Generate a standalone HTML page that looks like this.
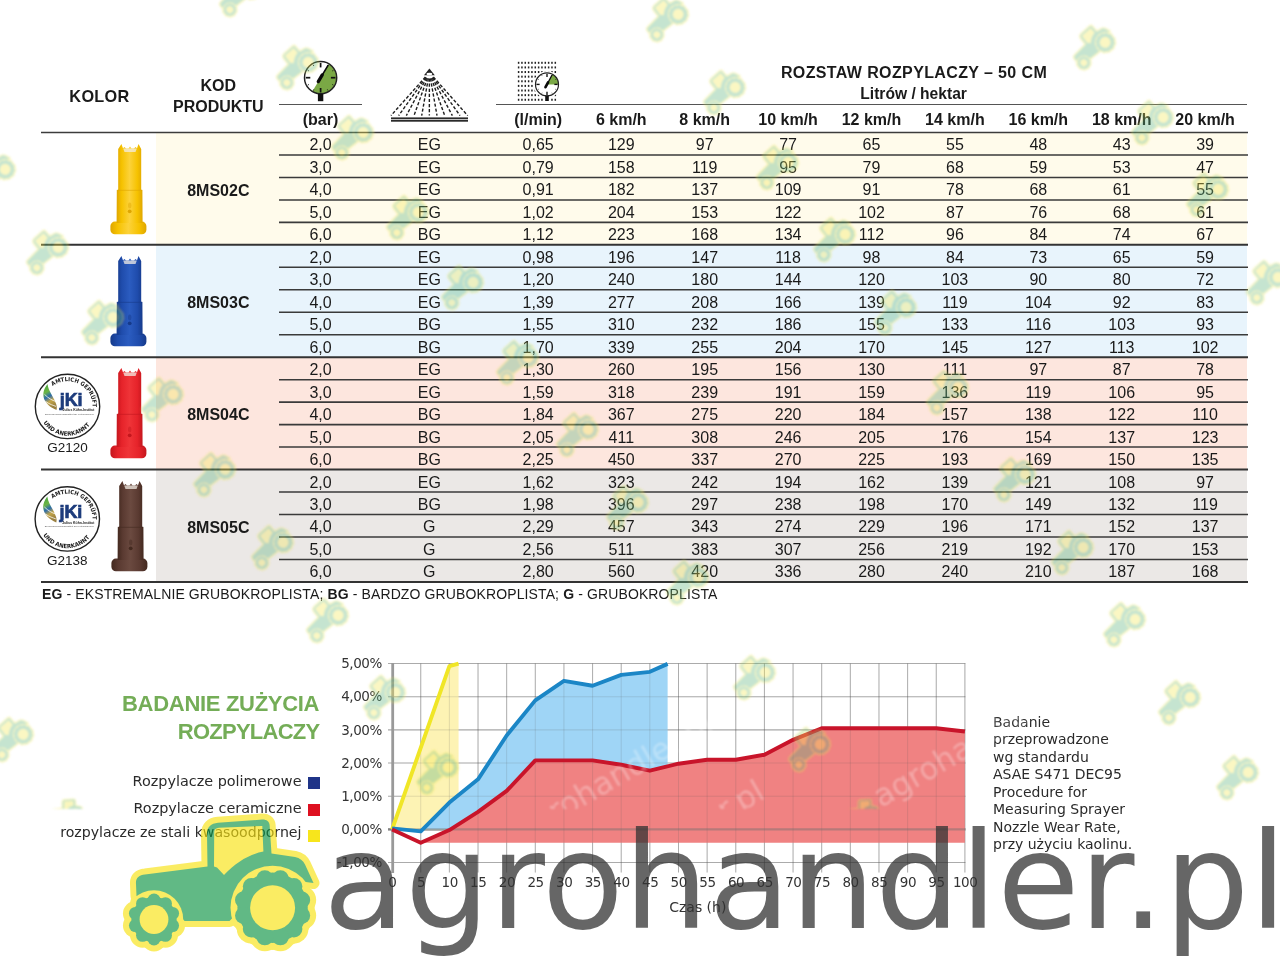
<!DOCTYPE html>
<html><head><meta charset="utf-8"><title>Rozpylacze</title>
<style>
html,body{margin:0;padding:0;background:#fff;}
#pg{position:relative;width:1280px;height:960px;overflow:hidden;background:#fff;}
.t{position:absolute;white-space:nowrap;}
.r{position:absolute;}
svg{position:absolute;overflow:visible;}
</style></head><body><div id="pg">
<div class="r" style="left:156px;top:132.5px;width:1091px;height:112.35px;background:#fffbeb;"></div>
<div class="r" style="left:156px;top:244.85px;width:1091px;height:112.35px;background:#e8f4fc;"></div>
<div class="r" style="left:156px;top:357.2px;width:1091px;height:112.35px;background:#fde6de;"></div>
<div class="r" style="left:156px;top:469.54999999999995px;width:1091px;height:112.35px;background:#ebe8e6;"></div>
<div class="r" style="left:279px;top:103.6px;width:83px;height:1.4px;background:#555;"></div>
<div class="r" style="left:496px;top:103.6px;width:751px;height:1.4px;background:#555;"></div>
<svg width="1280" height="960" style="left:0;top:0" viewBox="0 0 1280 960">
<line x1="41" y1="132.5" x2="1248" y2="132.5" stroke="#3c3c3c" stroke-width="1.7"/>
<line x1="279" y1="154.97" x2="1248" y2="154.97" stroke="#3a3a3a" stroke-width="1.55"/>
<line x1="279" y1="177.44" x2="1248" y2="177.44" stroke="#3a3a3a" stroke-width="1.55"/>
<line x1="279" y1="199.91" x2="1248" y2="199.91" stroke="#3a3a3a" stroke-width="1.55"/>
<line x1="279" y1="222.38" x2="1248" y2="222.38" stroke="#3a3a3a" stroke-width="1.55"/>
<line x1="41" y1="244.85" x2="1248" y2="244.85" stroke="#333" stroke-width="2"/>
<line x1="279" y1="267.32" x2="1248" y2="267.32" stroke="#3a3a3a" stroke-width="1.55"/>
<line x1="279" y1="289.78999999999996" x2="1248" y2="289.78999999999996" stroke="#3a3a3a" stroke-width="1.55"/>
<line x1="279" y1="312.26" x2="1248" y2="312.26" stroke="#3a3a3a" stroke-width="1.55"/>
<line x1="279" y1="334.73" x2="1248" y2="334.73" stroke="#3a3a3a" stroke-width="1.55"/>
<line x1="41" y1="357.2" x2="1248" y2="357.2" stroke="#333" stroke-width="2"/>
<line x1="279" y1="379.66999999999996" x2="1248" y2="379.66999999999996" stroke="#3a3a3a" stroke-width="1.55"/>
<line x1="279" y1="402.14" x2="1248" y2="402.14" stroke="#3a3a3a" stroke-width="1.55"/>
<line x1="279" y1="424.61" x2="1248" y2="424.61" stroke="#3a3a3a" stroke-width="1.55"/>
<line x1="279" y1="447.08" x2="1248" y2="447.08" stroke="#3a3a3a" stroke-width="1.55"/>
<line x1="41" y1="469.54999999999995" x2="1248" y2="469.54999999999995" stroke="#333" stroke-width="2"/>
<line x1="279" y1="492.02" x2="1248" y2="492.02" stroke="#3a3a3a" stroke-width="1.55"/>
<line x1="279" y1="514.49" x2="1248" y2="514.49" stroke="#3a3a3a" stroke-width="1.55"/>
<line x1="279" y1="536.96" x2="1248" y2="536.96" stroke="#3a3a3a" stroke-width="1.55"/>
<line x1="279" y1="559.43" x2="1248" y2="559.43" stroke="#3a3a3a" stroke-width="1.55"/>
<line x1="41" y1="581.9" x2="1248" y2="581.9" stroke="#333" stroke-width="2"/>
</svg>
<div class="t" style="left:-200.50px;width:600px;text-align:center;top:87.60px;font-size:16.3px;line-height:16.3px;font-weight:700;font-family:'Liberation Sans', Arial, sans-serif;color:#1a1a1a;letter-spacing:0.3px;">KOLOR</div>
<div class="t" style="left:-81.70px;width:600px;text-align:center;top:78.46px;font-size:16px;line-height:16px;font-weight:700;font-family:'Liberation Sans', Arial, sans-serif;color:#1a1a1a;">KOD</div>
<div class="t" style="left:-81.70px;width:600px;text-align:center;top:98.96px;font-size:16px;line-height:16px;font-weight:700;font-family:'Liberation Sans', Arial, sans-serif;color:#1a1a1a;">PRODUKTU</div>
<div class="t" style="left:614.00px;width:600px;text-align:center;top:64.96px;font-size:16px;line-height:16px;font-weight:700;font-family:'Liberation Sans', Arial, sans-serif;color:#1a1a1a;letter-spacing:0.38px;">ROZSTAW ROZPYLACZY – 50 CM</div>
<div class="t" style="left:613.60px;width:600px;text-align:center;top:85.79px;font-size:15.6px;line-height:15.6px;font-weight:700;font-family:'Liberation Sans', Arial, sans-serif;color:#1a1a1a;">Litrów / hektar</div>
<div class="t" style="left:20.50px;width:600px;text-align:center;top:111.76px;font-size:16px;line-height:16px;font-weight:700;font-family:'Liberation Sans', Arial, sans-serif;color:#1a1a1a;">(bar)</div>
<div class="t" style="left:238.20px;width:600px;text-align:center;top:111.76px;font-size:16px;line-height:16px;font-weight:700;font-family:'Liberation Sans', Arial, sans-serif;color:#1a1a1a;">(l/min)</div>
<div class="t" style="left:321.30px;width:600px;text-align:center;top:111.76px;font-size:16px;line-height:16px;font-weight:700;font-family:'Liberation Sans', Arial, sans-serif;color:#1a1a1a;">6 km/h</div>
<div class="t" style="left:404.70px;width:600px;text-align:center;top:111.76px;font-size:16px;line-height:16px;font-weight:700;font-family:'Liberation Sans', Arial, sans-serif;color:#1a1a1a;">8 km/h</div>
<div class="t" style="left:488.10px;width:600px;text-align:center;top:111.76px;font-size:16px;line-height:16px;font-weight:700;font-family:'Liberation Sans', Arial, sans-serif;color:#1a1a1a;">10 km/h</div>
<div class="t" style="left:571.50px;width:600px;text-align:center;top:111.76px;font-size:16px;line-height:16px;font-weight:700;font-family:'Liberation Sans', Arial, sans-serif;color:#1a1a1a;">12 km/h</div>
<div class="t" style="left:654.90px;width:600px;text-align:center;top:111.76px;font-size:16px;line-height:16px;font-weight:700;font-family:'Liberation Sans', Arial, sans-serif;color:#1a1a1a;">14 km/h</div>
<div class="t" style="left:738.30px;width:600px;text-align:center;top:111.76px;font-size:16px;line-height:16px;font-weight:700;font-family:'Liberation Sans', Arial, sans-serif;color:#1a1a1a;">16 km/h</div>
<div class="t" style="left:821.70px;width:600px;text-align:center;top:111.76px;font-size:16px;line-height:16px;font-weight:700;font-family:'Liberation Sans', Arial, sans-serif;color:#1a1a1a;">18 km/h</div>
<div class="t" style="left:905.10px;width:600px;text-align:center;top:111.76px;font-size:16px;line-height:16px;font-weight:700;font-family:'Liberation Sans', Arial, sans-serif;color:#1a1a1a;">20 km/h</div>
<div class="t" style="left:-81.70px;width:600px;text-align:center;top:182.73px;font-size:16px;line-height:16px;font-weight:700;font-family:'Liberation Sans', Arial, sans-serif;color:#1a1a1a;">8MS02C</div>
<div class="t" style="left:20.50px;width:600px;text-align:center;top:137.46px;font-size:16px;line-height:16px;font-weight:400;font-family:'Liberation Sans', Arial, sans-serif;color:#1a1a1a;">2,0</div>
<div class="t" style="left:129.30px;width:600px;text-align:center;top:137.46px;font-size:16px;line-height:16px;font-weight:400;font-family:'Liberation Sans', Arial, sans-serif;color:#1a1a1a;">EG</div>
<div class="t" style="left:238.20px;width:600px;text-align:center;top:137.46px;font-size:16px;line-height:16px;font-weight:400;font-family:'Liberation Sans', Arial, sans-serif;color:#1a1a1a;">0,65</div>
<div class="t" style="left:321.30px;width:600px;text-align:center;top:137.46px;font-size:16px;line-height:16px;font-weight:400;font-family:'Liberation Sans', Arial, sans-serif;color:#1a1a1a;">129</div>
<div class="t" style="left:404.70px;width:600px;text-align:center;top:137.46px;font-size:16px;line-height:16px;font-weight:400;font-family:'Liberation Sans', Arial, sans-serif;color:#1a1a1a;">97</div>
<div class="t" style="left:488.10px;width:600px;text-align:center;top:137.46px;font-size:16px;line-height:16px;font-weight:400;font-family:'Liberation Sans', Arial, sans-serif;color:#1a1a1a;">77</div>
<div class="t" style="left:571.50px;width:600px;text-align:center;top:137.46px;font-size:16px;line-height:16px;font-weight:400;font-family:'Liberation Sans', Arial, sans-serif;color:#1a1a1a;">65</div>
<div class="t" style="left:654.90px;width:600px;text-align:center;top:137.46px;font-size:16px;line-height:16px;font-weight:400;font-family:'Liberation Sans', Arial, sans-serif;color:#1a1a1a;">55</div>
<div class="t" style="left:738.30px;width:600px;text-align:center;top:137.46px;font-size:16px;line-height:16px;font-weight:400;font-family:'Liberation Sans', Arial, sans-serif;color:#1a1a1a;">48</div>
<div class="t" style="left:821.70px;width:600px;text-align:center;top:137.46px;font-size:16px;line-height:16px;font-weight:400;font-family:'Liberation Sans', Arial, sans-serif;color:#1a1a1a;">43</div>
<div class="t" style="left:905.10px;width:600px;text-align:center;top:137.46px;font-size:16px;line-height:16px;font-weight:400;font-family:'Liberation Sans', Arial, sans-serif;color:#1a1a1a;">39</div>
<div class="t" style="left:20.50px;width:600px;text-align:center;top:159.93px;font-size:16px;line-height:16px;font-weight:400;font-family:'Liberation Sans', Arial, sans-serif;color:#1a1a1a;">3,0</div>
<div class="t" style="left:129.30px;width:600px;text-align:center;top:159.93px;font-size:16px;line-height:16px;font-weight:400;font-family:'Liberation Sans', Arial, sans-serif;color:#1a1a1a;">EG</div>
<div class="t" style="left:238.20px;width:600px;text-align:center;top:159.93px;font-size:16px;line-height:16px;font-weight:400;font-family:'Liberation Sans', Arial, sans-serif;color:#1a1a1a;">0,79</div>
<div class="t" style="left:321.30px;width:600px;text-align:center;top:159.93px;font-size:16px;line-height:16px;font-weight:400;font-family:'Liberation Sans', Arial, sans-serif;color:#1a1a1a;">158</div>
<div class="t" style="left:404.70px;width:600px;text-align:center;top:159.93px;font-size:16px;line-height:16px;font-weight:400;font-family:'Liberation Sans', Arial, sans-serif;color:#1a1a1a;">119</div>
<div class="t" style="left:488.10px;width:600px;text-align:center;top:159.93px;font-size:16px;line-height:16px;font-weight:400;font-family:'Liberation Sans', Arial, sans-serif;color:#1a1a1a;">95</div>
<div class="t" style="left:571.50px;width:600px;text-align:center;top:159.93px;font-size:16px;line-height:16px;font-weight:400;font-family:'Liberation Sans', Arial, sans-serif;color:#1a1a1a;">79</div>
<div class="t" style="left:654.90px;width:600px;text-align:center;top:159.93px;font-size:16px;line-height:16px;font-weight:400;font-family:'Liberation Sans', Arial, sans-serif;color:#1a1a1a;">68</div>
<div class="t" style="left:738.30px;width:600px;text-align:center;top:159.93px;font-size:16px;line-height:16px;font-weight:400;font-family:'Liberation Sans', Arial, sans-serif;color:#1a1a1a;">59</div>
<div class="t" style="left:821.70px;width:600px;text-align:center;top:159.93px;font-size:16px;line-height:16px;font-weight:400;font-family:'Liberation Sans', Arial, sans-serif;color:#1a1a1a;">53</div>
<div class="t" style="left:905.10px;width:600px;text-align:center;top:159.93px;font-size:16px;line-height:16px;font-weight:400;font-family:'Liberation Sans', Arial, sans-serif;color:#1a1a1a;">47</div>
<div class="t" style="left:20.50px;width:600px;text-align:center;top:182.40px;font-size:16px;line-height:16px;font-weight:400;font-family:'Liberation Sans', Arial, sans-serif;color:#1a1a1a;">4,0</div>
<div class="t" style="left:129.30px;width:600px;text-align:center;top:182.40px;font-size:16px;line-height:16px;font-weight:400;font-family:'Liberation Sans', Arial, sans-serif;color:#1a1a1a;">EG</div>
<div class="t" style="left:238.20px;width:600px;text-align:center;top:182.40px;font-size:16px;line-height:16px;font-weight:400;font-family:'Liberation Sans', Arial, sans-serif;color:#1a1a1a;">0,91</div>
<div class="t" style="left:321.30px;width:600px;text-align:center;top:182.40px;font-size:16px;line-height:16px;font-weight:400;font-family:'Liberation Sans', Arial, sans-serif;color:#1a1a1a;">182</div>
<div class="t" style="left:404.70px;width:600px;text-align:center;top:182.40px;font-size:16px;line-height:16px;font-weight:400;font-family:'Liberation Sans', Arial, sans-serif;color:#1a1a1a;">137</div>
<div class="t" style="left:488.10px;width:600px;text-align:center;top:182.40px;font-size:16px;line-height:16px;font-weight:400;font-family:'Liberation Sans', Arial, sans-serif;color:#1a1a1a;">109</div>
<div class="t" style="left:571.50px;width:600px;text-align:center;top:182.40px;font-size:16px;line-height:16px;font-weight:400;font-family:'Liberation Sans', Arial, sans-serif;color:#1a1a1a;">91</div>
<div class="t" style="left:654.90px;width:600px;text-align:center;top:182.40px;font-size:16px;line-height:16px;font-weight:400;font-family:'Liberation Sans', Arial, sans-serif;color:#1a1a1a;">78</div>
<div class="t" style="left:738.30px;width:600px;text-align:center;top:182.40px;font-size:16px;line-height:16px;font-weight:400;font-family:'Liberation Sans', Arial, sans-serif;color:#1a1a1a;">68</div>
<div class="t" style="left:821.70px;width:600px;text-align:center;top:182.40px;font-size:16px;line-height:16px;font-weight:400;font-family:'Liberation Sans', Arial, sans-serif;color:#1a1a1a;">61</div>
<div class="t" style="left:905.10px;width:600px;text-align:center;top:182.40px;font-size:16px;line-height:16px;font-weight:400;font-family:'Liberation Sans', Arial, sans-serif;color:#1a1a1a;">55</div>
<div class="t" style="left:20.50px;width:600px;text-align:center;top:204.87px;font-size:16px;line-height:16px;font-weight:400;font-family:'Liberation Sans', Arial, sans-serif;color:#1a1a1a;">5,0</div>
<div class="t" style="left:129.30px;width:600px;text-align:center;top:204.87px;font-size:16px;line-height:16px;font-weight:400;font-family:'Liberation Sans', Arial, sans-serif;color:#1a1a1a;">EG</div>
<div class="t" style="left:238.20px;width:600px;text-align:center;top:204.87px;font-size:16px;line-height:16px;font-weight:400;font-family:'Liberation Sans', Arial, sans-serif;color:#1a1a1a;">1,02</div>
<div class="t" style="left:321.30px;width:600px;text-align:center;top:204.87px;font-size:16px;line-height:16px;font-weight:400;font-family:'Liberation Sans', Arial, sans-serif;color:#1a1a1a;">204</div>
<div class="t" style="left:404.70px;width:600px;text-align:center;top:204.87px;font-size:16px;line-height:16px;font-weight:400;font-family:'Liberation Sans', Arial, sans-serif;color:#1a1a1a;">153</div>
<div class="t" style="left:488.10px;width:600px;text-align:center;top:204.87px;font-size:16px;line-height:16px;font-weight:400;font-family:'Liberation Sans', Arial, sans-serif;color:#1a1a1a;">122</div>
<div class="t" style="left:571.50px;width:600px;text-align:center;top:204.87px;font-size:16px;line-height:16px;font-weight:400;font-family:'Liberation Sans', Arial, sans-serif;color:#1a1a1a;">102</div>
<div class="t" style="left:654.90px;width:600px;text-align:center;top:204.87px;font-size:16px;line-height:16px;font-weight:400;font-family:'Liberation Sans', Arial, sans-serif;color:#1a1a1a;">87</div>
<div class="t" style="left:738.30px;width:600px;text-align:center;top:204.87px;font-size:16px;line-height:16px;font-weight:400;font-family:'Liberation Sans', Arial, sans-serif;color:#1a1a1a;">76</div>
<div class="t" style="left:821.70px;width:600px;text-align:center;top:204.87px;font-size:16px;line-height:16px;font-weight:400;font-family:'Liberation Sans', Arial, sans-serif;color:#1a1a1a;">68</div>
<div class="t" style="left:905.10px;width:600px;text-align:center;top:204.87px;font-size:16px;line-height:16px;font-weight:400;font-family:'Liberation Sans', Arial, sans-serif;color:#1a1a1a;">61</div>
<div class="t" style="left:20.50px;width:600px;text-align:center;top:227.34px;font-size:16px;line-height:16px;font-weight:400;font-family:'Liberation Sans', Arial, sans-serif;color:#1a1a1a;">6,0</div>
<div class="t" style="left:129.30px;width:600px;text-align:center;top:227.34px;font-size:16px;line-height:16px;font-weight:400;font-family:'Liberation Sans', Arial, sans-serif;color:#1a1a1a;">BG</div>
<div class="t" style="left:238.20px;width:600px;text-align:center;top:227.34px;font-size:16px;line-height:16px;font-weight:400;font-family:'Liberation Sans', Arial, sans-serif;color:#1a1a1a;">1,12</div>
<div class="t" style="left:321.30px;width:600px;text-align:center;top:227.34px;font-size:16px;line-height:16px;font-weight:400;font-family:'Liberation Sans', Arial, sans-serif;color:#1a1a1a;">223</div>
<div class="t" style="left:404.70px;width:600px;text-align:center;top:227.34px;font-size:16px;line-height:16px;font-weight:400;font-family:'Liberation Sans', Arial, sans-serif;color:#1a1a1a;">168</div>
<div class="t" style="left:488.10px;width:600px;text-align:center;top:227.34px;font-size:16px;line-height:16px;font-weight:400;font-family:'Liberation Sans', Arial, sans-serif;color:#1a1a1a;">134</div>
<div class="t" style="left:571.50px;width:600px;text-align:center;top:227.34px;font-size:16px;line-height:16px;font-weight:400;font-family:'Liberation Sans', Arial, sans-serif;color:#1a1a1a;">112</div>
<div class="t" style="left:654.90px;width:600px;text-align:center;top:227.34px;font-size:16px;line-height:16px;font-weight:400;font-family:'Liberation Sans', Arial, sans-serif;color:#1a1a1a;">96</div>
<div class="t" style="left:738.30px;width:600px;text-align:center;top:227.34px;font-size:16px;line-height:16px;font-weight:400;font-family:'Liberation Sans', Arial, sans-serif;color:#1a1a1a;">84</div>
<div class="t" style="left:821.70px;width:600px;text-align:center;top:227.34px;font-size:16px;line-height:16px;font-weight:400;font-family:'Liberation Sans', Arial, sans-serif;color:#1a1a1a;">74</div>
<div class="t" style="left:905.10px;width:600px;text-align:center;top:227.34px;font-size:16px;line-height:16px;font-weight:400;font-family:'Liberation Sans', Arial, sans-serif;color:#1a1a1a;">67</div>
<div class="t" style="left:-81.70px;width:600px;text-align:center;top:295.08px;font-size:16px;line-height:16px;font-weight:700;font-family:'Liberation Sans', Arial, sans-serif;color:#1a1a1a;">8MS03C</div>
<div class="t" style="left:20.50px;width:600px;text-align:center;top:249.81px;font-size:16px;line-height:16px;font-weight:400;font-family:'Liberation Sans', Arial, sans-serif;color:#1a1a1a;">2,0</div>
<div class="t" style="left:129.30px;width:600px;text-align:center;top:249.81px;font-size:16px;line-height:16px;font-weight:400;font-family:'Liberation Sans', Arial, sans-serif;color:#1a1a1a;">EG</div>
<div class="t" style="left:238.20px;width:600px;text-align:center;top:249.81px;font-size:16px;line-height:16px;font-weight:400;font-family:'Liberation Sans', Arial, sans-serif;color:#1a1a1a;">0,98</div>
<div class="t" style="left:321.30px;width:600px;text-align:center;top:249.81px;font-size:16px;line-height:16px;font-weight:400;font-family:'Liberation Sans', Arial, sans-serif;color:#1a1a1a;">196</div>
<div class="t" style="left:404.70px;width:600px;text-align:center;top:249.81px;font-size:16px;line-height:16px;font-weight:400;font-family:'Liberation Sans', Arial, sans-serif;color:#1a1a1a;">147</div>
<div class="t" style="left:488.10px;width:600px;text-align:center;top:249.81px;font-size:16px;line-height:16px;font-weight:400;font-family:'Liberation Sans', Arial, sans-serif;color:#1a1a1a;">118</div>
<div class="t" style="left:571.50px;width:600px;text-align:center;top:249.81px;font-size:16px;line-height:16px;font-weight:400;font-family:'Liberation Sans', Arial, sans-serif;color:#1a1a1a;">98</div>
<div class="t" style="left:654.90px;width:600px;text-align:center;top:249.81px;font-size:16px;line-height:16px;font-weight:400;font-family:'Liberation Sans', Arial, sans-serif;color:#1a1a1a;">84</div>
<div class="t" style="left:738.30px;width:600px;text-align:center;top:249.81px;font-size:16px;line-height:16px;font-weight:400;font-family:'Liberation Sans', Arial, sans-serif;color:#1a1a1a;">73</div>
<div class="t" style="left:821.70px;width:600px;text-align:center;top:249.81px;font-size:16px;line-height:16px;font-weight:400;font-family:'Liberation Sans', Arial, sans-serif;color:#1a1a1a;">65</div>
<div class="t" style="left:905.10px;width:600px;text-align:center;top:249.81px;font-size:16px;line-height:16px;font-weight:400;font-family:'Liberation Sans', Arial, sans-serif;color:#1a1a1a;">59</div>
<div class="t" style="left:20.50px;width:600px;text-align:center;top:272.28px;font-size:16px;line-height:16px;font-weight:400;font-family:'Liberation Sans', Arial, sans-serif;color:#1a1a1a;">3,0</div>
<div class="t" style="left:129.30px;width:600px;text-align:center;top:272.28px;font-size:16px;line-height:16px;font-weight:400;font-family:'Liberation Sans', Arial, sans-serif;color:#1a1a1a;">EG</div>
<div class="t" style="left:238.20px;width:600px;text-align:center;top:272.28px;font-size:16px;line-height:16px;font-weight:400;font-family:'Liberation Sans', Arial, sans-serif;color:#1a1a1a;">1,20</div>
<div class="t" style="left:321.30px;width:600px;text-align:center;top:272.28px;font-size:16px;line-height:16px;font-weight:400;font-family:'Liberation Sans', Arial, sans-serif;color:#1a1a1a;">240</div>
<div class="t" style="left:404.70px;width:600px;text-align:center;top:272.28px;font-size:16px;line-height:16px;font-weight:400;font-family:'Liberation Sans', Arial, sans-serif;color:#1a1a1a;">180</div>
<div class="t" style="left:488.10px;width:600px;text-align:center;top:272.28px;font-size:16px;line-height:16px;font-weight:400;font-family:'Liberation Sans', Arial, sans-serif;color:#1a1a1a;">144</div>
<div class="t" style="left:571.50px;width:600px;text-align:center;top:272.28px;font-size:16px;line-height:16px;font-weight:400;font-family:'Liberation Sans', Arial, sans-serif;color:#1a1a1a;">120</div>
<div class="t" style="left:654.90px;width:600px;text-align:center;top:272.28px;font-size:16px;line-height:16px;font-weight:400;font-family:'Liberation Sans', Arial, sans-serif;color:#1a1a1a;">103</div>
<div class="t" style="left:738.30px;width:600px;text-align:center;top:272.28px;font-size:16px;line-height:16px;font-weight:400;font-family:'Liberation Sans', Arial, sans-serif;color:#1a1a1a;">90</div>
<div class="t" style="left:821.70px;width:600px;text-align:center;top:272.28px;font-size:16px;line-height:16px;font-weight:400;font-family:'Liberation Sans', Arial, sans-serif;color:#1a1a1a;">80</div>
<div class="t" style="left:905.10px;width:600px;text-align:center;top:272.28px;font-size:16px;line-height:16px;font-weight:400;font-family:'Liberation Sans', Arial, sans-serif;color:#1a1a1a;">72</div>
<div class="t" style="left:20.50px;width:600px;text-align:center;top:294.75px;font-size:16px;line-height:16px;font-weight:400;font-family:'Liberation Sans', Arial, sans-serif;color:#1a1a1a;">4,0</div>
<div class="t" style="left:129.30px;width:600px;text-align:center;top:294.75px;font-size:16px;line-height:16px;font-weight:400;font-family:'Liberation Sans', Arial, sans-serif;color:#1a1a1a;">EG</div>
<div class="t" style="left:238.20px;width:600px;text-align:center;top:294.75px;font-size:16px;line-height:16px;font-weight:400;font-family:'Liberation Sans', Arial, sans-serif;color:#1a1a1a;">1,39</div>
<div class="t" style="left:321.30px;width:600px;text-align:center;top:294.75px;font-size:16px;line-height:16px;font-weight:400;font-family:'Liberation Sans', Arial, sans-serif;color:#1a1a1a;">277</div>
<div class="t" style="left:404.70px;width:600px;text-align:center;top:294.75px;font-size:16px;line-height:16px;font-weight:400;font-family:'Liberation Sans', Arial, sans-serif;color:#1a1a1a;">208</div>
<div class="t" style="left:488.10px;width:600px;text-align:center;top:294.75px;font-size:16px;line-height:16px;font-weight:400;font-family:'Liberation Sans', Arial, sans-serif;color:#1a1a1a;">166</div>
<div class="t" style="left:571.50px;width:600px;text-align:center;top:294.75px;font-size:16px;line-height:16px;font-weight:400;font-family:'Liberation Sans', Arial, sans-serif;color:#1a1a1a;">139</div>
<div class="t" style="left:654.90px;width:600px;text-align:center;top:294.75px;font-size:16px;line-height:16px;font-weight:400;font-family:'Liberation Sans', Arial, sans-serif;color:#1a1a1a;">119</div>
<div class="t" style="left:738.30px;width:600px;text-align:center;top:294.75px;font-size:16px;line-height:16px;font-weight:400;font-family:'Liberation Sans', Arial, sans-serif;color:#1a1a1a;">104</div>
<div class="t" style="left:821.70px;width:600px;text-align:center;top:294.75px;font-size:16px;line-height:16px;font-weight:400;font-family:'Liberation Sans', Arial, sans-serif;color:#1a1a1a;">92</div>
<div class="t" style="left:905.10px;width:600px;text-align:center;top:294.75px;font-size:16px;line-height:16px;font-weight:400;font-family:'Liberation Sans', Arial, sans-serif;color:#1a1a1a;">83</div>
<div class="t" style="left:20.50px;width:600px;text-align:center;top:317.22px;font-size:16px;line-height:16px;font-weight:400;font-family:'Liberation Sans', Arial, sans-serif;color:#1a1a1a;">5,0</div>
<div class="t" style="left:129.30px;width:600px;text-align:center;top:317.22px;font-size:16px;line-height:16px;font-weight:400;font-family:'Liberation Sans', Arial, sans-serif;color:#1a1a1a;">BG</div>
<div class="t" style="left:238.20px;width:600px;text-align:center;top:317.22px;font-size:16px;line-height:16px;font-weight:400;font-family:'Liberation Sans', Arial, sans-serif;color:#1a1a1a;">1,55</div>
<div class="t" style="left:321.30px;width:600px;text-align:center;top:317.22px;font-size:16px;line-height:16px;font-weight:400;font-family:'Liberation Sans', Arial, sans-serif;color:#1a1a1a;">310</div>
<div class="t" style="left:404.70px;width:600px;text-align:center;top:317.22px;font-size:16px;line-height:16px;font-weight:400;font-family:'Liberation Sans', Arial, sans-serif;color:#1a1a1a;">232</div>
<div class="t" style="left:488.10px;width:600px;text-align:center;top:317.22px;font-size:16px;line-height:16px;font-weight:400;font-family:'Liberation Sans', Arial, sans-serif;color:#1a1a1a;">186</div>
<div class="t" style="left:571.50px;width:600px;text-align:center;top:317.22px;font-size:16px;line-height:16px;font-weight:400;font-family:'Liberation Sans', Arial, sans-serif;color:#1a1a1a;">155</div>
<div class="t" style="left:654.90px;width:600px;text-align:center;top:317.22px;font-size:16px;line-height:16px;font-weight:400;font-family:'Liberation Sans', Arial, sans-serif;color:#1a1a1a;">133</div>
<div class="t" style="left:738.30px;width:600px;text-align:center;top:317.22px;font-size:16px;line-height:16px;font-weight:400;font-family:'Liberation Sans', Arial, sans-serif;color:#1a1a1a;">116</div>
<div class="t" style="left:821.70px;width:600px;text-align:center;top:317.22px;font-size:16px;line-height:16px;font-weight:400;font-family:'Liberation Sans', Arial, sans-serif;color:#1a1a1a;">103</div>
<div class="t" style="left:905.10px;width:600px;text-align:center;top:317.22px;font-size:16px;line-height:16px;font-weight:400;font-family:'Liberation Sans', Arial, sans-serif;color:#1a1a1a;">93</div>
<div class="t" style="left:20.50px;width:600px;text-align:center;top:339.69px;font-size:16px;line-height:16px;font-weight:400;font-family:'Liberation Sans', Arial, sans-serif;color:#1a1a1a;">6,0</div>
<div class="t" style="left:129.30px;width:600px;text-align:center;top:339.69px;font-size:16px;line-height:16px;font-weight:400;font-family:'Liberation Sans', Arial, sans-serif;color:#1a1a1a;">BG</div>
<div class="t" style="left:238.20px;width:600px;text-align:center;top:339.69px;font-size:16px;line-height:16px;font-weight:400;font-family:'Liberation Sans', Arial, sans-serif;color:#1a1a1a;">1,70</div>
<div class="t" style="left:321.30px;width:600px;text-align:center;top:339.69px;font-size:16px;line-height:16px;font-weight:400;font-family:'Liberation Sans', Arial, sans-serif;color:#1a1a1a;">339</div>
<div class="t" style="left:404.70px;width:600px;text-align:center;top:339.69px;font-size:16px;line-height:16px;font-weight:400;font-family:'Liberation Sans', Arial, sans-serif;color:#1a1a1a;">255</div>
<div class="t" style="left:488.10px;width:600px;text-align:center;top:339.69px;font-size:16px;line-height:16px;font-weight:400;font-family:'Liberation Sans', Arial, sans-serif;color:#1a1a1a;">204</div>
<div class="t" style="left:571.50px;width:600px;text-align:center;top:339.69px;font-size:16px;line-height:16px;font-weight:400;font-family:'Liberation Sans', Arial, sans-serif;color:#1a1a1a;">170</div>
<div class="t" style="left:654.90px;width:600px;text-align:center;top:339.69px;font-size:16px;line-height:16px;font-weight:400;font-family:'Liberation Sans', Arial, sans-serif;color:#1a1a1a;">145</div>
<div class="t" style="left:738.30px;width:600px;text-align:center;top:339.69px;font-size:16px;line-height:16px;font-weight:400;font-family:'Liberation Sans', Arial, sans-serif;color:#1a1a1a;">127</div>
<div class="t" style="left:821.70px;width:600px;text-align:center;top:339.69px;font-size:16px;line-height:16px;font-weight:400;font-family:'Liberation Sans', Arial, sans-serif;color:#1a1a1a;">113</div>
<div class="t" style="left:905.10px;width:600px;text-align:center;top:339.69px;font-size:16px;line-height:16px;font-weight:400;font-family:'Liberation Sans', Arial, sans-serif;color:#1a1a1a;">102</div>
<div class="t" style="left:-81.70px;width:600px;text-align:center;top:407.43px;font-size:16px;line-height:16px;font-weight:700;font-family:'Liberation Sans', Arial, sans-serif;color:#1a1a1a;">8MS04C</div>
<div class="t" style="left:20.50px;width:600px;text-align:center;top:362.16px;font-size:16px;line-height:16px;font-weight:400;font-family:'Liberation Sans', Arial, sans-serif;color:#1a1a1a;">2,0</div>
<div class="t" style="left:129.30px;width:600px;text-align:center;top:362.16px;font-size:16px;line-height:16px;font-weight:400;font-family:'Liberation Sans', Arial, sans-serif;color:#1a1a1a;">EG</div>
<div class="t" style="left:238.20px;width:600px;text-align:center;top:362.16px;font-size:16px;line-height:16px;font-weight:400;font-family:'Liberation Sans', Arial, sans-serif;color:#1a1a1a;">1,30</div>
<div class="t" style="left:321.30px;width:600px;text-align:center;top:362.16px;font-size:16px;line-height:16px;font-weight:400;font-family:'Liberation Sans', Arial, sans-serif;color:#1a1a1a;">260</div>
<div class="t" style="left:404.70px;width:600px;text-align:center;top:362.16px;font-size:16px;line-height:16px;font-weight:400;font-family:'Liberation Sans', Arial, sans-serif;color:#1a1a1a;">195</div>
<div class="t" style="left:488.10px;width:600px;text-align:center;top:362.16px;font-size:16px;line-height:16px;font-weight:400;font-family:'Liberation Sans', Arial, sans-serif;color:#1a1a1a;">156</div>
<div class="t" style="left:571.50px;width:600px;text-align:center;top:362.16px;font-size:16px;line-height:16px;font-weight:400;font-family:'Liberation Sans', Arial, sans-serif;color:#1a1a1a;">130</div>
<div class="t" style="left:654.90px;width:600px;text-align:center;top:362.16px;font-size:16px;line-height:16px;font-weight:400;font-family:'Liberation Sans', Arial, sans-serif;color:#1a1a1a;">111</div>
<div class="t" style="left:738.30px;width:600px;text-align:center;top:362.16px;font-size:16px;line-height:16px;font-weight:400;font-family:'Liberation Sans', Arial, sans-serif;color:#1a1a1a;">97</div>
<div class="t" style="left:821.70px;width:600px;text-align:center;top:362.16px;font-size:16px;line-height:16px;font-weight:400;font-family:'Liberation Sans', Arial, sans-serif;color:#1a1a1a;">87</div>
<div class="t" style="left:905.10px;width:600px;text-align:center;top:362.16px;font-size:16px;line-height:16px;font-weight:400;font-family:'Liberation Sans', Arial, sans-serif;color:#1a1a1a;">78</div>
<div class="t" style="left:20.50px;width:600px;text-align:center;top:384.63px;font-size:16px;line-height:16px;font-weight:400;font-family:'Liberation Sans', Arial, sans-serif;color:#1a1a1a;">3,0</div>
<div class="t" style="left:129.30px;width:600px;text-align:center;top:384.63px;font-size:16px;line-height:16px;font-weight:400;font-family:'Liberation Sans', Arial, sans-serif;color:#1a1a1a;">EG</div>
<div class="t" style="left:238.20px;width:600px;text-align:center;top:384.63px;font-size:16px;line-height:16px;font-weight:400;font-family:'Liberation Sans', Arial, sans-serif;color:#1a1a1a;">1,59</div>
<div class="t" style="left:321.30px;width:600px;text-align:center;top:384.63px;font-size:16px;line-height:16px;font-weight:400;font-family:'Liberation Sans', Arial, sans-serif;color:#1a1a1a;">318</div>
<div class="t" style="left:404.70px;width:600px;text-align:center;top:384.63px;font-size:16px;line-height:16px;font-weight:400;font-family:'Liberation Sans', Arial, sans-serif;color:#1a1a1a;">239</div>
<div class="t" style="left:488.10px;width:600px;text-align:center;top:384.63px;font-size:16px;line-height:16px;font-weight:400;font-family:'Liberation Sans', Arial, sans-serif;color:#1a1a1a;">191</div>
<div class="t" style="left:571.50px;width:600px;text-align:center;top:384.63px;font-size:16px;line-height:16px;font-weight:400;font-family:'Liberation Sans', Arial, sans-serif;color:#1a1a1a;">159</div>
<div class="t" style="left:654.90px;width:600px;text-align:center;top:384.63px;font-size:16px;line-height:16px;font-weight:400;font-family:'Liberation Sans', Arial, sans-serif;color:#1a1a1a;">136</div>
<div class="t" style="left:738.30px;width:600px;text-align:center;top:384.63px;font-size:16px;line-height:16px;font-weight:400;font-family:'Liberation Sans', Arial, sans-serif;color:#1a1a1a;">119</div>
<div class="t" style="left:821.70px;width:600px;text-align:center;top:384.63px;font-size:16px;line-height:16px;font-weight:400;font-family:'Liberation Sans', Arial, sans-serif;color:#1a1a1a;">106</div>
<div class="t" style="left:905.10px;width:600px;text-align:center;top:384.63px;font-size:16px;line-height:16px;font-weight:400;font-family:'Liberation Sans', Arial, sans-serif;color:#1a1a1a;">95</div>
<div class="t" style="left:20.50px;width:600px;text-align:center;top:407.10px;font-size:16px;line-height:16px;font-weight:400;font-family:'Liberation Sans', Arial, sans-serif;color:#1a1a1a;">4,0</div>
<div class="t" style="left:129.30px;width:600px;text-align:center;top:407.10px;font-size:16px;line-height:16px;font-weight:400;font-family:'Liberation Sans', Arial, sans-serif;color:#1a1a1a;">BG</div>
<div class="t" style="left:238.20px;width:600px;text-align:center;top:407.10px;font-size:16px;line-height:16px;font-weight:400;font-family:'Liberation Sans', Arial, sans-serif;color:#1a1a1a;">1,84</div>
<div class="t" style="left:321.30px;width:600px;text-align:center;top:407.10px;font-size:16px;line-height:16px;font-weight:400;font-family:'Liberation Sans', Arial, sans-serif;color:#1a1a1a;">367</div>
<div class="t" style="left:404.70px;width:600px;text-align:center;top:407.10px;font-size:16px;line-height:16px;font-weight:400;font-family:'Liberation Sans', Arial, sans-serif;color:#1a1a1a;">275</div>
<div class="t" style="left:488.10px;width:600px;text-align:center;top:407.10px;font-size:16px;line-height:16px;font-weight:400;font-family:'Liberation Sans', Arial, sans-serif;color:#1a1a1a;">220</div>
<div class="t" style="left:571.50px;width:600px;text-align:center;top:407.10px;font-size:16px;line-height:16px;font-weight:400;font-family:'Liberation Sans', Arial, sans-serif;color:#1a1a1a;">184</div>
<div class="t" style="left:654.90px;width:600px;text-align:center;top:407.10px;font-size:16px;line-height:16px;font-weight:400;font-family:'Liberation Sans', Arial, sans-serif;color:#1a1a1a;">157</div>
<div class="t" style="left:738.30px;width:600px;text-align:center;top:407.10px;font-size:16px;line-height:16px;font-weight:400;font-family:'Liberation Sans', Arial, sans-serif;color:#1a1a1a;">138</div>
<div class="t" style="left:821.70px;width:600px;text-align:center;top:407.10px;font-size:16px;line-height:16px;font-weight:400;font-family:'Liberation Sans', Arial, sans-serif;color:#1a1a1a;">122</div>
<div class="t" style="left:905.10px;width:600px;text-align:center;top:407.10px;font-size:16px;line-height:16px;font-weight:400;font-family:'Liberation Sans', Arial, sans-serif;color:#1a1a1a;">110</div>
<div class="t" style="left:20.50px;width:600px;text-align:center;top:429.57px;font-size:16px;line-height:16px;font-weight:400;font-family:'Liberation Sans', Arial, sans-serif;color:#1a1a1a;">5,0</div>
<div class="t" style="left:129.30px;width:600px;text-align:center;top:429.57px;font-size:16px;line-height:16px;font-weight:400;font-family:'Liberation Sans', Arial, sans-serif;color:#1a1a1a;">BG</div>
<div class="t" style="left:238.20px;width:600px;text-align:center;top:429.57px;font-size:16px;line-height:16px;font-weight:400;font-family:'Liberation Sans', Arial, sans-serif;color:#1a1a1a;">2,05</div>
<div class="t" style="left:321.30px;width:600px;text-align:center;top:429.57px;font-size:16px;line-height:16px;font-weight:400;font-family:'Liberation Sans', Arial, sans-serif;color:#1a1a1a;">411</div>
<div class="t" style="left:404.70px;width:600px;text-align:center;top:429.57px;font-size:16px;line-height:16px;font-weight:400;font-family:'Liberation Sans', Arial, sans-serif;color:#1a1a1a;">308</div>
<div class="t" style="left:488.10px;width:600px;text-align:center;top:429.57px;font-size:16px;line-height:16px;font-weight:400;font-family:'Liberation Sans', Arial, sans-serif;color:#1a1a1a;">246</div>
<div class="t" style="left:571.50px;width:600px;text-align:center;top:429.57px;font-size:16px;line-height:16px;font-weight:400;font-family:'Liberation Sans', Arial, sans-serif;color:#1a1a1a;">205</div>
<div class="t" style="left:654.90px;width:600px;text-align:center;top:429.57px;font-size:16px;line-height:16px;font-weight:400;font-family:'Liberation Sans', Arial, sans-serif;color:#1a1a1a;">176</div>
<div class="t" style="left:738.30px;width:600px;text-align:center;top:429.57px;font-size:16px;line-height:16px;font-weight:400;font-family:'Liberation Sans', Arial, sans-serif;color:#1a1a1a;">154</div>
<div class="t" style="left:821.70px;width:600px;text-align:center;top:429.57px;font-size:16px;line-height:16px;font-weight:400;font-family:'Liberation Sans', Arial, sans-serif;color:#1a1a1a;">137</div>
<div class="t" style="left:905.10px;width:600px;text-align:center;top:429.57px;font-size:16px;line-height:16px;font-weight:400;font-family:'Liberation Sans', Arial, sans-serif;color:#1a1a1a;">123</div>
<div class="t" style="left:20.50px;width:600px;text-align:center;top:452.04px;font-size:16px;line-height:16px;font-weight:400;font-family:'Liberation Sans', Arial, sans-serif;color:#1a1a1a;">6,0</div>
<div class="t" style="left:129.30px;width:600px;text-align:center;top:452.04px;font-size:16px;line-height:16px;font-weight:400;font-family:'Liberation Sans', Arial, sans-serif;color:#1a1a1a;">BG</div>
<div class="t" style="left:238.20px;width:600px;text-align:center;top:452.04px;font-size:16px;line-height:16px;font-weight:400;font-family:'Liberation Sans', Arial, sans-serif;color:#1a1a1a;">2,25</div>
<div class="t" style="left:321.30px;width:600px;text-align:center;top:452.04px;font-size:16px;line-height:16px;font-weight:400;font-family:'Liberation Sans', Arial, sans-serif;color:#1a1a1a;">450</div>
<div class="t" style="left:404.70px;width:600px;text-align:center;top:452.04px;font-size:16px;line-height:16px;font-weight:400;font-family:'Liberation Sans', Arial, sans-serif;color:#1a1a1a;">337</div>
<div class="t" style="left:488.10px;width:600px;text-align:center;top:452.04px;font-size:16px;line-height:16px;font-weight:400;font-family:'Liberation Sans', Arial, sans-serif;color:#1a1a1a;">270</div>
<div class="t" style="left:571.50px;width:600px;text-align:center;top:452.04px;font-size:16px;line-height:16px;font-weight:400;font-family:'Liberation Sans', Arial, sans-serif;color:#1a1a1a;">225</div>
<div class="t" style="left:654.90px;width:600px;text-align:center;top:452.04px;font-size:16px;line-height:16px;font-weight:400;font-family:'Liberation Sans', Arial, sans-serif;color:#1a1a1a;">193</div>
<div class="t" style="left:738.30px;width:600px;text-align:center;top:452.04px;font-size:16px;line-height:16px;font-weight:400;font-family:'Liberation Sans', Arial, sans-serif;color:#1a1a1a;">169</div>
<div class="t" style="left:821.70px;width:600px;text-align:center;top:452.04px;font-size:16px;line-height:16px;font-weight:400;font-family:'Liberation Sans', Arial, sans-serif;color:#1a1a1a;">150</div>
<div class="t" style="left:905.10px;width:600px;text-align:center;top:452.04px;font-size:16px;line-height:16px;font-weight:400;font-family:'Liberation Sans', Arial, sans-serif;color:#1a1a1a;">135</div>
<div class="t" style="left:-81.70px;width:600px;text-align:center;top:519.78px;font-size:16px;line-height:16px;font-weight:700;font-family:'Liberation Sans', Arial, sans-serif;color:#1a1a1a;">8MS05C</div>
<div class="t" style="left:20.50px;width:600px;text-align:center;top:474.51px;font-size:16px;line-height:16px;font-weight:400;font-family:'Liberation Sans', Arial, sans-serif;color:#1a1a1a;">2,0</div>
<div class="t" style="left:129.30px;width:600px;text-align:center;top:474.51px;font-size:16px;line-height:16px;font-weight:400;font-family:'Liberation Sans', Arial, sans-serif;color:#1a1a1a;">EG</div>
<div class="t" style="left:238.20px;width:600px;text-align:center;top:474.51px;font-size:16px;line-height:16px;font-weight:400;font-family:'Liberation Sans', Arial, sans-serif;color:#1a1a1a;">1,62</div>
<div class="t" style="left:321.30px;width:600px;text-align:center;top:474.51px;font-size:16px;line-height:16px;font-weight:400;font-family:'Liberation Sans', Arial, sans-serif;color:#1a1a1a;">323</div>
<div class="t" style="left:404.70px;width:600px;text-align:center;top:474.51px;font-size:16px;line-height:16px;font-weight:400;font-family:'Liberation Sans', Arial, sans-serif;color:#1a1a1a;">242</div>
<div class="t" style="left:488.10px;width:600px;text-align:center;top:474.51px;font-size:16px;line-height:16px;font-weight:400;font-family:'Liberation Sans', Arial, sans-serif;color:#1a1a1a;">194</div>
<div class="t" style="left:571.50px;width:600px;text-align:center;top:474.51px;font-size:16px;line-height:16px;font-weight:400;font-family:'Liberation Sans', Arial, sans-serif;color:#1a1a1a;">162</div>
<div class="t" style="left:654.90px;width:600px;text-align:center;top:474.51px;font-size:16px;line-height:16px;font-weight:400;font-family:'Liberation Sans', Arial, sans-serif;color:#1a1a1a;">139</div>
<div class="t" style="left:738.30px;width:600px;text-align:center;top:474.51px;font-size:16px;line-height:16px;font-weight:400;font-family:'Liberation Sans', Arial, sans-serif;color:#1a1a1a;">121</div>
<div class="t" style="left:821.70px;width:600px;text-align:center;top:474.51px;font-size:16px;line-height:16px;font-weight:400;font-family:'Liberation Sans', Arial, sans-serif;color:#1a1a1a;">108</div>
<div class="t" style="left:905.10px;width:600px;text-align:center;top:474.51px;font-size:16px;line-height:16px;font-weight:400;font-family:'Liberation Sans', Arial, sans-serif;color:#1a1a1a;">97</div>
<div class="t" style="left:20.50px;width:600px;text-align:center;top:496.98px;font-size:16px;line-height:16px;font-weight:400;font-family:'Liberation Sans', Arial, sans-serif;color:#1a1a1a;">3,0</div>
<div class="t" style="left:129.30px;width:600px;text-align:center;top:496.98px;font-size:16px;line-height:16px;font-weight:400;font-family:'Liberation Sans', Arial, sans-serif;color:#1a1a1a;">BG</div>
<div class="t" style="left:238.20px;width:600px;text-align:center;top:496.98px;font-size:16px;line-height:16px;font-weight:400;font-family:'Liberation Sans', Arial, sans-serif;color:#1a1a1a;">1,98</div>
<div class="t" style="left:321.30px;width:600px;text-align:center;top:496.98px;font-size:16px;line-height:16px;font-weight:400;font-family:'Liberation Sans', Arial, sans-serif;color:#1a1a1a;">396</div>
<div class="t" style="left:404.70px;width:600px;text-align:center;top:496.98px;font-size:16px;line-height:16px;font-weight:400;font-family:'Liberation Sans', Arial, sans-serif;color:#1a1a1a;">297</div>
<div class="t" style="left:488.10px;width:600px;text-align:center;top:496.98px;font-size:16px;line-height:16px;font-weight:400;font-family:'Liberation Sans', Arial, sans-serif;color:#1a1a1a;">238</div>
<div class="t" style="left:571.50px;width:600px;text-align:center;top:496.98px;font-size:16px;line-height:16px;font-weight:400;font-family:'Liberation Sans', Arial, sans-serif;color:#1a1a1a;">198</div>
<div class="t" style="left:654.90px;width:600px;text-align:center;top:496.98px;font-size:16px;line-height:16px;font-weight:400;font-family:'Liberation Sans', Arial, sans-serif;color:#1a1a1a;">170</div>
<div class="t" style="left:738.30px;width:600px;text-align:center;top:496.98px;font-size:16px;line-height:16px;font-weight:400;font-family:'Liberation Sans', Arial, sans-serif;color:#1a1a1a;">149</div>
<div class="t" style="left:821.70px;width:600px;text-align:center;top:496.98px;font-size:16px;line-height:16px;font-weight:400;font-family:'Liberation Sans', Arial, sans-serif;color:#1a1a1a;">132</div>
<div class="t" style="left:905.10px;width:600px;text-align:center;top:496.98px;font-size:16px;line-height:16px;font-weight:400;font-family:'Liberation Sans', Arial, sans-serif;color:#1a1a1a;">119</div>
<div class="t" style="left:20.50px;width:600px;text-align:center;top:519.45px;font-size:16px;line-height:16px;font-weight:400;font-family:'Liberation Sans', Arial, sans-serif;color:#1a1a1a;">4,0</div>
<div class="t" style="left:129.30px;width:600px;text-align:center;top:519.45px;font-size:16px;line-height:16px;font-weight:400;font-family:'Liberation Sans', Arial, sans-serif;color:#1a1a1a;">G</div>
<div class="t" style="left:238.20px;width:600px;text-align:center;top:519.45px;font-size:16px;line-height:16px;font-weight:400;font-family:'Liberation Sans', Arial, sans-serif;color:#1a1a1a;">2,29</div>
<div class="t" style="left:321.30px;width:600px;text-align:center;top:519.45px;font-size:16px;line-height:16px;font-weight:400;font-family:'Liberation Sans', Arial, sans-serif;color:#1a1a1a;">457</div>
<div class="t" style="left:404.70px;width:600px;text-align:center;top:519.45px;font-size:16px;line-height:16px;font-weight:400;font-family:'Liberation Sans', Arial, sans-serif;color:#1a1a1a;">343</div>
<div class="t" style="left:488.10px;width:600px;text-align:center;top:519.45px;font-size:16px;line-height:16px;font-weight:400;font-family:'Liberation Sans', Arial, sans-serif;color:#1a1a1a;">274</div>
<div class="t" style="left:571.50px;width:600px;text-align:center;top:519.45px;font-size:16px;line-height:16px;font-weight:400;font-family:'Liberation Sans', Arial, sans-serif;color:#1a1a1a;">229</div>
<div class="t" style="left:654.90px;width:600px;text-align:center;top:519.45px;font-size:16px;line-height:16px;font-weight:400;font-family:'Liberation Sans', Arial, sans-serif;color:#1a1a1a;">196</div>
<div class="t" style="left:738.30px;width:600px;text-align:center;top:519.45px;font-size:16px;line-height:16px;font-weight:400;font-family:'Liberation Sans', Arial, sans-serif;color:#1a1a1a;">171</div>
<div class="t" style="left:821.70px;width:600px;text-align:center;top:519.45px;font-size:16px;line-height:16px;font-weight:400;font-family:'Liberation Sans', Arial, sans-serif;color:#1a1a1a;">152</div>
<div class="t" style="left:905.10px;width:600px;text-align:center;top:519.45px;font-size:16px;line-height:16px;font-weight:400;font-family:'Liberation Sans', Arial, sans-serif;color:#1a1a1a;">137</div>
<div class="t" style="left:20.50px;width:600px;text-align:center;top:541.92px;font-size:16px;line-height:16px;font-weight:400;font-family:'Liberation Sans', Arial, sans-serif;color:#1a1a1a;">5,0</div>
<div class="t" style="left:129.30px;width:600px;text-align:center;top:541.92px;font-size:16px;line-height:16px;font-weight:400;font-family:'Liberation Sans', Arial, sans-serif;color:#1a1a1a;">G</div>
<div class="t" style="left:238.20px;width:600px;text-align:center;top:541.92px;font-size:16px;line-height:16px;font-weight:400;font-family:'Liberation Sans', Arial, sans-serif;color:#1a1a1a;">2,56</div>
<div class="t" style="left:321.30px;width:600px;text-align:center;top:541.92px;font-size:16px;line-height:16px;font-weight:400;font-family:'Liberation Sans', Arial, sans-serif;color:#1a1a1a;">511</div>
<div class="t" style="left:404.70px;width:600px;text-align:center;top:541.92px;font-size:16px;line-height:16px;font-weight:400;font-family:'Liberation Sans', Arial, sans-serif;color:#1a1a1a;">383</div>
<div class="t" style="left:488.10px;width:600px;text-align:center;top:541.92px;font-size:16px;line-height:16px;font-weight:400;font-family:'Liberation Sans', Arial, sans-serif;color:#1a1a1a;">307</div>
<div class="t" style="left:571.50px;width:600px;text-align:center;top:541.92px;font-size:16px;line-height:16px;font-weight:400;font-family:'Liberation Sans', Arial, sans-serif;color:#1a1a1a;">256</div>
<div class="t" style="left:654.90px;width:600px;text-align:center;top:541.92px;font-size:16px;line-height:16px;font-weight:400;font-family:'Liberation Sans', Arial, sans-serif;color:#1a1a1a;">219</div>
<div class="t" style="left:738.30px;width:600px;text-align:center;top:541.92px;font-size:16px;line-height:16px;font-weight:400;font-family:'Liberation Sans', Arial, sans-serif;color:#1a1a1a;">192</div>
<div class="t" style="left:821.70px;width:600px;text-align:center;top:541.92px;font-size:16px;line-height:16px;font-weight:400;font-family:'Liberation Sans', Arial, sans-serif;color:#1a1a1a;">170</div>
<div class="t" style="left:905.10px;width:600px;text-align:center;top:541.92px;font-size:16px;line-height:16px;font-weight:400;font-family:'Liberation Sans', Arial, sans-serif;color:#1a1a1a;">153</div>
<div class="t" style="left:20.50px;width:600px;text-align:center;top:564.39px;font-size:16px;line-height:16px;font-weight:400;font-family:'Liberation Sans', Arial, sans-serif;color:#1a1a1a;">6,0</div>
<div class="t" style="left:129.30px;width:600px;text-align:center;top:564.39px;font-size:16px;line-height:16px;font-weight:400;font-family:'Liberation Sans', Arial, sans-serif;color:#1a1a1a;">G</div>
<div class="t" style="left:238.20px;width:600px;text-align:center;top:564.39px;font-size:16px;line-height:16px;font-weight:400;font-family:'Liberation Sans', Arial, sans-serif;color:#1a1a1a;">2,80</div>
<div class="t" style="left:321.30px;width:600px;text-align:center;top:564.39px;font-size:16px;line-height:16px;font-weight:400;font-family:'Liberation Sans', Arial, sans-serif;color:#1a1a1a;">560</div>
<div class="t" style="left:404.70px;width:600px;text-align:center;top:564.39px;font-size:16px;line-height:16px;font-weight:400;font-family:'Liberation Sans', Arial, sans-serif;color:#1a1a1a;">420</div>
<div class="t" style="left:488.10px;width:600px;text-align:center;top:564.39px;font-size:16px;line-height:16px;font-weight:400;font-family:'Liberation Sans', Arial, sans-serif;color:#1a1a1a;">336</div>
<div class="t" style="left:571.50px;width:600px;text-align:center;top:564.39px;font-size:16px;line-height:16px;font-weight:400;font-family:'Liberation Sans', Arial, sans-serif;color:#1a1a1a;">280</div>
<div class="t" style="left:654.90px;width:600px;text-align:center;top:564.39px;font-size:16px;line-height:16px;font-weight:400;font-family:'Liberation Sans', Arial, sans-serif;color:#1a1a1a;">240</div>
<div class="t" style="left:738.30px;width:600px;text-align:center;top:564.39px;font-size:16px;line-height:16px;font-weight:400;font-family:'Liberation Sans', Arial, sans-serif;color:#1a1a1a;">210</div>
<div class="t" style="left:821.70px;width:600px;text-align:center;top:564.39px;font-size:16px;line-height:16px;font-weight:400;font-family:'Liberation Sans', Arial, sans-serif;color:#1a1a1a;">187</div>
<div class="t" style="left:905.10px;width:600px;text-align:center;top:564.39px;font-size:16px;line-height:16px;font-weight:400;font-family:'Liberation Sans', Arial, sans-serif;color:#1a1a1a;">168</div>
<div class="t" style="left:42.00px;top:587.35px;font-size:14px;line-height:14px;font-weight:400;font-family:'Liberation Sans', Arial, sans-serif;color:#1a1a1a;letter-spacing:0.12px;"><b>EG</b> - EKSTREMALNIE GRUBOKROPLISTA; <b>BG</b> - BARDZO GRUBOKROPLISTA; <b>G</b> - GRUBOKROPLISTA</div>
<svg width="1280" height="960" style="left:0;top:0" viewBox="0 0 1280 960"><circle cx="320.6" cy="77.7" r="16.1" fill="#fff"/>
<path d="M320.6,77.7 L328.89,63.90 A16.1,16.1 0 0 1 312.31,91.50 Z" fill="#7aa845"/>
<line x1="330.90" y1="77.70" x2="335.41" y2="77.70" stroke="#111" stroke-width="1.72"/>
<line x1="332.31" y1="84.46" x2="333.43" y2="85.11" stroke="#111" stroke-width="0.90"/>
<line x1="327.36" y1="89.41" x2="328.01" y2="90.53" stroke="#111" stroke-width="0.90"/>
<line x1="320.60" y1="88.00" x2="320.60" y2="92.51" stroke="#111" stroke-width="1.72"/>
<line x1="313.84" y1="89.41" x2="313.19" y2="90.53" stroke="#111" stroke-width="0.90"/>
<line x1="308.89" y1="84.46" x2="307.77" y2="85.11" stroke="#111" stroke-width="0.90"/>
<line x1="310.30" y1="77.70" x2="305.79" y2="77.70" stroke="#111" stroke-width="1.72"/>
<line x1="308.89" y1="70.94" x2="307.77" y2="70.29" stroke="#111" stroke-width="0.90"/>
<line x1="313.84" y1="65.99" x2="313.19" y2="64.87" stroke="#111" stroke-width="0.90"/>
<line x1="320.60" y1="67.40" x2="320.60" y2="62.89" stroke="#111" stroke-width="1.72"/>
<line x1="327.36" y1="65.99" x2="328.01" y2="64.87" stroke="#111" stroke-width="0.90"/>
<line x1="332.31" y1="70.94" x2="333.43" y2="70.29" stroke="#111" stroke-width="0.90"/>
<circle cx="320.6" cy="77.7" r="16.1" fill="none" stroke="#222" stroke-width="1.5"/>
<line x1="318.28" y1="81.56" x2="327.90" y2="65.56" stroke="#0a0a0a" stroke-width="1.65" stroke-linecap="round"/>
<line x1="318.28" y1="81.56" x2="322.26" y2="74.94" stroke="#0a0a0a" stroke-width="3.30" stroke-linecap="round"/>
<rect x="317.9" y="93.8" width="5.4" height="7.4" fill="#111"/>
<line x1="425.40" y1="76.98" x2="391.00" y2="115.6" stroke="#1e1e1e" stroke-width="1.4" stroke-dasharray="3.2 1.9"/>
<line x1="425.91" y1="77.38" x2="398.67" y2="115.6" stroke="#1e1e1e" stroke-width="1.4" stroke-dasharray="3.2 1.9"/>
<line x1="426.56" y1="77.79" x2="406.34" y2="115.6" stroke="#1e1e1e" stroke-width="1.4" stroke-dasharray="3.2 1.9"/>
<line x1="427.38" y1="78.15" x2="414.01" y2="115.6" stroke="#1e1e1e" stroke-width="1.4" stroke-dasharray="3.2 1.9"/>
<line x1="428.34" y1="78.41" x2="421.68" y2="115.6" stroke="#1e1e1e" stroke-width="1.4" stroke-dasharray="3.2 1.9"/>
<line x1="429.39" y1="78.50" x2="429.35" y2="115.6" stroke="#1e1e1e" stroke-width="1.4" stroke-dasharray="3.2 1.9"/>
<line x1="430.45" y1="78.41" x2="437.02" y2="115.6" stroke="#1e1e1e" stroke-width="1.4" stroke-dasharray="3.2 1.9"/>
<line x1="431.41" y1="78.15" x2="444.69" y2="115.6" stroke="#1e1e1e" stroke-width="1.4" stroke-dasharray="3.2 1.9"/>
<line x1="432.23" y1="77.79" x2="452.36" y2="115.6" stroke="#1e1e1e" stroke-width="1.4" stroke-dasharray="3.2 1.9"/>
<line x1="432.88" y1="77.39" x2="460.03" y2="115.6" stroke="#1e1e1e" stroke-width="1.4" stroke-dasharray="3.2 1.9"/>
<line x1="433.39" y1="76.98" x2="467.70" y2="115.6" stroke="#1e1e1e" stroke-width="1.4" stroke-dasharray="3.2 1.9"/>
<path d="M429.4,68.6 L434.8,75.2 L424,75.2 Z" fill="#222"/>
<ellipse cx="429.4" cy="74" rx="3" ry="1.3" fill="#fff"/>
<rect x="391" y="117.4" width="77" height="1.8" fill="#2a2a2a"/><rect x="391" y="119.9" width="77" height="1.8" fill="#2a2a2a"/>
<rect x="517.85" y="61.80" width="1.5" height="2" fill="#222"/>
<rect x="521.19" y="61.80" width="1.5" height="2" fill="#222"/>
<rect x="524.52" y="61.80" width="1.5" height="2" fill="#222"/>
<rect x="527.86" y="61.80" width="1.5" height="2" fill="#222"/>
<rect x="531.19" y="61.80" width="1.5" height="2" fill="#222"/>
<rect x="534.53" y="61.80" width="1.5" height="2" fill="#222"/>
<rect x="537.87" y="61.80" width="1.5" height="2" fill="#222"/>
<rect x="541.20" y="61.80" width="1.5" height="2" fill="#222"/>
<rect x="544.54" y="61.80" width="1.5" height="2" fill="#222"/>
<rect x="547.87" y="61.80" width="1.5" height="2" fill="#222"/>
<rect x="551.21" y="61.80" width="1.5" height="2" fill="#222"/>
<rect x="554.55" y="61.80" width="1.5" height="2" fill="#222"/>
<rect x="517.85" y="66.42" width="1.5" height="2" fill="#222"/>
<rect x="521.19" y="66.42" width="1.5" height="2" fill="#222"/>
<rect x="524.52" y="66.42" width="1.5" height="2" fill="#222"/>
<rect x="527.86" y="66.42" width="1.5" height="2" fill="#222"/>
<rect x="531.19" y="66.42" width="1.5" height="2" fill="#222"/>
<rect x="534.53" y="66.42" width="1.5" height="2" fill="#222"/>
<rect x="537.87" y="66.42" width="1.5" height="2" fill="#222"/>
<rect x="541.20" y="66.42" width="1.5" height="2" fill="#222"/>
<rect x="544.54" y="66.42" width="1.5" height="2" fill="#222"/>
<rect x="547.87" y="66.42" width="1.5" height="2" fill="#222"/>
<rect x="551.21" y="66.42" width="1.5" height="2" fill="#222"/>
<rect x="554.55" y="66.42" width="1.5" height="2" fill="#222"/>
<rect x="517.85" y="71.04" width="1.5" height="2" fill="#222"/>
<rect x="521.19" y="71.04" width="1.5" height="2" fill="#222"/>
<rect x="524.52" y="71.04" width="1.5" height="2" fill="#222"/>
<rect x="527.86" y="71.04" width="1.5" height="2" fill="#222"/>
<rect x="531.19" y="71.04" width="1.5" height="2" fill="#222"/>
<rect x="534.53" y="71.04" width="1.5" height="2" fill="#222"/>
<rect x="537.87" y="71.04" width="1.5" height="2" fill="#222"/>
<rect x="541.20" y="71.04" width="1.5" height="2" fill="#222"/>
<rect x="544.54" y="71.04" width="1.5" height="2" fill="#222"/>
<rect x="547.87" y="71.04" width="1.5" height="2" fill="#222"/>
<rect x="551.21" y="71.04" width="1.5" height="2" fill="#222"/>
<rect x="554.55" y="71.04" width="1.5" height="2" fill="#222"/>
<rect x="517.85" y="75.66" width="1.5" height="2" fill="#222"/>
<rect x="521.19" y="75.66" width="1.5" height="2" fill="#222"/>
<rect x="524.52" y="75.66" width="1.5" height="2" fill="#222"/>
<rect x="527.86" y="75.66" width="1.5" height="2" fill="#222"/>
<rect x="531.19" y="75.66" width="1.5" height="2" fill="#222"/>
<rect x="534.53" y="75.66" width="1.5" height="2" fill="#222"/>
<rect x="537.87" y="75.66" width="1.5" height="2" fill="#222"/>
<rect x="541.20" y="75.66" width="1.5" height="2" fill="#222"/>
<rect x="544.54" y="75.66" width="1.5" height="2" fill="#222"/>
<rect x="547.87" y="75.66" width="1.5" height="2" fill="#222"/>
<rect x="551.21" y="75.66" width="1.5" height="2" fill="#222"/>
<rect x="554.55" y="75.66" width="1.5" height="2" fill="#222"/>
<rect x="517.85" y="80.28" width="1.5" height="2" fill="#222"/>
<rect x="521.19" y="80.28" width="1.5" height="2" fill="#222"/>
<rect x="524.52" y="80.28" width="1.5" height="2" fill="#222"/>
<rect x="527.86" y="80.28" width="1.5" height="2" fill="#222"/>
<rect x="531.19" y="80.28" width="1.5" height="2" fill="#222"/>
<rect x="534.53" y="80.28" width="1.5" height="2" fill="#222"/>
<rect x="537.87" y="80.28" width="1.5" height="2" fill="#222"/>
<rect x="541.20" y="80.28" width="1.5" height="2" fill="#222"/>
<rect x="544.54" y="80.28" width="1.5" height="2" fill="#222"/>
<rect x="547.87" y="80.28" width="1.5" height="2" fill="#222"/>
<rect x="551.21" y="80.28" width="1.5" height="2" fill="#222"/>
<rect x="554.55" y="80.28" width="1.5" height="2" fill="#222"/>
<rect x="517.85" y="84.90" width="1.5" height="2" fill="#222"/>
<rect x="521.19" y="84.90" width="1.5" height="2" fill="#222"/>
<rect x="524.52" y="84.90" width="1.5" height="2" fill="#222"/>
<rect x="527.86" y="84.90" width="1.5" height="2" fill="#222"/>
<rect x="531.19" y="84.90" width="1.5" height="2" fill="#222"/>
<rect x="534.53" y="84.90" width="1.5" height="2" fill="#222"/>
<rect x="537.87" y="84.90" width="1.5" height="2" fill="#222"/>
<rect x="541.20" y="84.90" width="1.5" height="2" fill="#222"/>
<rect x="544.54" y="84.90" width="1.5" height="2" fill="#222"/>
<rect x="547.87" y="84.90" width="1.5" height="2" fill="#222"/>
<rect x="551.21" y="84.90" width="1.5" height="2" fill="#222"/>
<rect x="554.55" y="84.90" width="1.5" height="2" fill="#222"/>
<rect x="517.85" y="89.52" width="1.5" height="2" fill="#222"/>
<rect x="521.19" y="89.52" width="1.5" height="2" fill="#222"/>
<rect x="524.52" y="89.52" width="1.5" height="2" fill="#222"/>
<rect x="527.86" y="89.52" width="1.5" height="2" fill="#222"/>
<rect x="531.19" y="89.52" width="1.5" height="2" fill="#222"/>
<rect x="534.53" y="89.52" width="1.5" height="2" fill="#222"/>
<rect x="537.87" y="89.52" width="1.5" height="2" fill="#222"/>
<rect x="541.20" y="89.52" width="1.5" height="2" fill="#222"/>
<rect x="544.54" y="89.52" width="1.5" height="2" fill="#222"/>
<rect x="547.87" y="89.52" width="1.5" height="2" fill="#222"/>
<rect x="551.21" y="89.52" width="1.5" height="2" fill="#222"/>
<rect x="554.55" y="89.52" width="1.5" height="2" fill="#222"/>
<rect x="517.85" y="94.14" width="1.5" height="2" fill="#222"/>
<rect x="521.19" y="94.14" width="1.5" height="2" fill="#222"/>
<rect x="524.52" y="94.14" width="1.5" height="2" fill="#222"/>
<rect x="527.86" y="94.14" width="1.5" height="2" fill="#222"/>
<rect x="531.19" y="94.14" width="1.5" height="2" fill="#222"/>
<rect x="534.53" y="94.14" width="1.5" height="2" fill="#222"/>
<rect x="537.87" y="94.14" width="1.5" height="2" fill="#222"/>
<rect x="541.20" y="94.14" width="1.5" height="2" fill="#222"/>
<rect x="544.54" y="94.14" width="1.5" height="2" fill="#222"/>
<rect x="547.87" y="94.14" width="1.5" height="2" fill="#222"/>
<rect x="551.21" y="94.14" width="1.5" height="2" fill="#222"/>
<rect x="554.55" y="94.14" width="1.5" height="2" fill="#222"/>
<rect x="517.85" y="98.76" width="1.5" height="2" fill="#222"/>
<rect x="521.19" y="98.76" width="1.5" height="2" fill="#222"/>
<rect x="524.52" y="98.76" width="1.5" height="2" fill="#222"/>
<rect x="527.86" y="98.76" width="1.5" height="2" fill="#222"/>
<rect x="531.19" y="98.76" width="1.5" height="2" fill="#222"/>
<rect x="534.53" y="98.76" width="1.5" height="2" fill="#222"/>
<rect x="537.87" y="98.76" width="1.5" height="2" fill="#222"/>
<rect x="541.20" y="98.76" width="1.5" height="2" fill="#222"/>
<rect x="544.54" y="98.76" width="1.5" height="2" fill="#222"/>
<rect x="547.87" y="98.76" width="1.5" height="2" fill="#222"/>
<rect x="551.21" y="98.76" width="1.5" height="2" fill="#222"/>
<rect x="554.55" y="98.76" width="1.5" height="2" fill="#222"/>
<circle cx="547" cy="84.4" r="13.4" fill="#fff"/><rect x="543.8" y="95" width="6.4" height="7" fill="#fff"/>
<circle cx="547" cy="84.4" r="11.5" fill="#fff"/>
<path d="M547,84.4 L552.40,74.25 A11.5,11.5 0 0 1 558.50,84.40 Z" fill="#7aa845"/>
<line x1="554.36" y1="84.40" x2="557.58" y2="84.40" stroke="#111" stroke-width="1.38"/>
<line x1="555.37" y1="89.23" x2="556.16" y2="89.69" stroke="#111" stroke-width="0.72"/>
<line x1="551.83" y1="92.77" x2="552.29" y2="93.56" stroke="#111" stroke-width="0.72"/>
<line x1="547.00" y1="91.76" x2="547.00" y2="94.98" stroke="#111" stroke-width="1.38"/>
<line x1="542.17" y1="92.77" x2="541.71" y2="93.56" stroke="#111" stroke-width="0.72"/>
<line x1="538.63" y1="89.23" x2="537.84" y2="89.69" stroke="#111" stroke-width="0.72"/>
<line x1="539.64" y1="84.40" x2="536.42" y2="84.40" stroke="#111" stroke-width="1.38"/>
<line x1="538.63" y1="79.57" x2="537.84" y2="79.11" stroke="#111" stroke-width="0.72"/>
<line x1="542.17" y1="76.03" x2="541.71" y2="75.24" stroke="#111" stroke-width="0.72"/>
<line x1="547.00" y1="77.04" x2="547.00" y2="73.82" stroke="#111" stroke-width="1.38"/>
<line x1="551.83" y1="76.03" x2="552.29" y2="75.24" stroke="#111" stroke-width="0.72"/>
<line x1="555.37" y1="79.57" x2="556.16" y2="79.11" stroke="#111" stroke-width="0.72"/>
<circle cx="547" cy="84.4" r="11.5" fill="none" stroke="#222" stroke-width="1.2"/>
<line x1="545.49" y1="87.24" x2="551.75" y2="75.46" stroke="#0a0a0a" stroke-width="1.32" stroke-linecap="round"/>
<line x1="545.49" y1="87.24" x2="548.08" y2="82.37" stroke="#0a0a0a" stroke-width="2.64" stroke-linecap="round"/>
<rect x="545.2" y="95.6" width="3.6" height="5.4" fill="#111"/></svg>
<svg width="40" height="95" style="left:110px;top:143.6px" viewBox="0 0 40 95"><defs><linearGradient id="gy" x1="0" x2="1" y1="0" y2="0"><stop offset="0" stop-color="#dfa600"/><stop offset="0.2" stop-color="#f6c200"/><stop offset="0.5" stop-color="#fcd23a"/><stop offset="0.8" stop-color="#f6c200"/><stop offset="1" stop-color="#dfa600"/></linearGradient></defs><rect x="0.4" y="77.6" width="36" height="12.6" rx="4.5" fill="url(#gy)"/><path d="M6.6,79 L6.8,46.5 L8.2,45.5 L8.2,5 L11.4,0 L13,4.2 L14.5,3 L16,4.4 L18.5,4.4 L20,2.6 L21.5,4.4 L24,4.4 L25.5,3 L27,4.2 L28.5,0 L31.2,5 L31.2,45.5 L32.4,46.5 L32.6,79 Z" fill="url(#gy)"/><path d="M13.2,4.6 L26.8,4.6 L25.5,8 L14.5,8 Z" fill="#f1ece4" opacity="0.75"/><rect x="6.8" y="45.8" width="25.6" height="1.2" fill="#dfa600" opacity="0.5"/><ellipse cx="19.7" cy="61.5" rx="1.7" ry="3" fill="#dfa600" opacity="0.45"/><circle cx="19.7" cy="67.3" r="1.9" fill="#dfa600"/></svg>
<svg width="40" height="95" style="left:110px;top:255.7px" viewBox="0 0 40 95"><defs><linearGradient id="gb" x1="0" x2="1" y1="0" y2="0"><stop offset="0" stop-color="#163a8a"/><stop offset="0.2" stop-color="#1f4cac"/><stop offset="0.5" stop-color="#2b5cc0"/><stop offset="0.8" stop-color="#1f4cac"/><stop offset="1" stop-color="#163a8a"/></linearGradient></defs><rect x="0.4" y="77.6" width="36" height="12.6" rx="4.5" fill="url(#gb)"/><path d="M6.6,79 L6.8,46.5 L8.2,45.5 L8.2,5 L11.4,0 L13,4.2 L14.5,3 L16,4.4 L18.5,4.4 L20,2.6 L21.5,4.4 L24,4.4 L25.5,3 L27,4.2 L28.5,0 L31.2,5 L31.2,45.5 L32.4,46.5 L32.6,79 Z" fill="url(#gb)"/><path d="M13.2,4.6 L26.8,4.6 L25.5,8 L14.5,8 Z" fill="#f1ece4" opacity="0.75"/><rect x="6.8" y="45.8" width="25.6" height="1.2" fill="#163a8a" opacity="0.5"/><ellipse cx="19.7" cy="61.5" rx="1.7" ry="3" fill="#163a8a" opacity="0.45"/><circle cx="19.7" cy="67.3" r="1.9" fill="#163a8a"/></svg>
<svg width="40" height="95" style="left:109.5px;top:368.0px" viewBox="0 0 40 95"><defs><linearGradient id="gr" x1="0" x2="1" y1="0" y2="0"><stop offset="0" stop-color="#c4161d"/><stop offset="0.2" stop-color="#e6232a"/><stop offset="0.5" stop-color="#ef3438"/><stop offset="0.8" stop-color="#e6232a"/><stop offset="1" stop-color="#c4161d"/></linearGradient></defs><rect x="0.4" y="77.6" width="36" height="12.6" rx="4.5" fill="url(#gr)"/><path d="M6.6,79 L6.8,46.5 L8.2,45.5 L8.2,5 L11.4,0 L13,4.2 L14.5,3 L16,4.4 L18.5,4.4 L20,2.6 L21.5,4.4 L24,4.4 L25.5,3 L27,4.2 L28.5,0 L31.2,5 L31.2,45.5 L32.4,46.5 L32.6,79 Z" fill="url(#gr)"/><path d="M13.2,4.6 L26.8,4.6 L25.5,8 L14.5,8 Z" fill="#f1ece4" opacity="0.75"/><rect x="6.8" y="45.8" width="25.6" height="1.2" fill="#c4161d" opacity="0.5"/><ellipse cx="19.7" cy="61.5" rx="1.7" ry="3" fill="#c4161d" opacity="0.45"/><circle cx="19.7" cy="67.3" r="1.9" fill="#c4161d"/></svg>
<svg width="40" height="95" style="left:110.5px;top:480.8px" viewBox="0 0 40 95"><defs><linearGradient id="gbr" x1="0" x2="1" y1="0" y2="0"><stop offset="0" stop-color="#43291f"/><stop offset="0.2" stop-color="#5a3a31"/><stop offset="0.5" stop-color="#6b4a40"/><stop offset="0.8" stop-color="#5a3a31"/><stop offset="1" stop-color="#43291f"/></linearGradient></defs><rect x="0.4" y="77.6" width="36" height="12.6" rx="4.5" fill="url(#gbr)"/><path d="M6.6,79 L6.8,46.5 L8.2,45.5 L8.2,5 L11.4,0 L13,4.2 L14.5,3 L16,4.4 L18.5,4.4 L20,2.6 L21.5,4.4 L24,4.4 L25.5,3 L27,4.2 L28.5,0 L31.2,5 L31.2,45.5 L32.4,46.5 L32.6,79 Z" fill="url(#gbr)"/><path d="M13.2,4.6 L26.8,4.6 L25.5,8 L14.5,8 Z" fill="#f1ece4" opacity="0.75"/><rect x="6.8" y="45.8" width="25.6" height="1.2" fill="#43291f" opacity="0.5"/><ellipse cx="19.7" cy="61.5" rx="1.7" ry="3" fill="#43291f" opacity="0.45"/><circle cx="19.7" cy="67.3" r="1.9" fill="#43291f"/></svg>
<svg width="1280" height="960" style="left:0;top:0" viewBox="0 0 1280 960"><defs><path id="j1t" d="M52.69,386.01 A25.2,25.2 0 0 1 92.70,406.40"/><path id="j1b" d="M43.29,422.73 A29.2,29.2 0 0 0 91.71,422.73"/><linearGradient id="j1g" x1="0" x2="0.3" y1="0" y2="1"><stop offset="0" stop-color="#3fa23a"/><stop offset="0.35" stop-color="#6cb545"/><stop offset="0.55" stop-color="#2b6cab"/><stop offset="0.75" stop-color="#c3a548"/><stop offset="1" stop-color="#9a8040"/></linearGradient></defs><circle cx="67.5" cy="406.4" r="32.2" fill="#fff" stroke="#222" stroke-width="1.4"/><text font-family="'DejaVu Sans', sans-serif" font-size="5.8" font-weight="700" fill="#1a1a1a"><textPath href="#j1t" textLength="56" lengthAdjust="spacingAndGlyphs">AMTLICH GEPRÜFT</textPath></text><text font-family="'DejaVu Sans', sans-serif" font-size="5.8" font-weight="700" fill="#1a1a1a"><textPath href="#j1b" textLength="54" lengthAdjust="spacingAndGlyphs">UND ANERKANNT</textPath></text><path d="M56.5,409.9 C45.5,405.4 38.5,395.4 47.5,383.9 C48.5,391.4 53.5,396.4 55.5,402.4 C57.0,405.4 57.0,407.9 56.5,409.9 Z" fill="url(#j1g)"/><path d="M44.5,394.4 C48.5,398.4 52.5,400.4 55.5,401.4" fill="none" stroke="#fff" stroke-width="0.9" opacity="0.85"/><path d="M45.5,401.4 C49.5,404.4 53.5,405.4 56.0,406.4" fill="none" stroke="#fff" stroke-width="0.9" opacity="0.85"/><text x="71.1" y="405.59999999999997" text-anchor="middle" font-family="'Liberation Sans', sans-serif" font-size="18" font-weight="700" fill="#1d3c7c" stroke="#1d3c7c" stroke-width="0.7" letter-spacing="-0.1">jKi</text><text x="78.5" y="411.0" text-anchor="middle" font-family="'Liberation Sans', sans-serif" font-size="3.4" font-weight="700" fill="#222" textLength="32" lengthAdjust="spacingAndGlyphs">Julius Kühn-Institut</text><text x="69.5" y="414.9" text-anchor="middle" font-family="'Liberation Sans', sans-serif" font-size="2.2" fill="#555" textLength="49" lengthAdjust="spacingAndGlyphs">Bundesforschungsinstitut für Kulturpflanzen</text></svg>
<div class="t" style="left:-232.50px;width:600px;text-align:center;top:441.37px;font-size:13.5px;line-height:13.5px;font-weight:400;font-family:'Liberation Sans', Arial, sans-serif;color:#1a1a1a;">G2120</div>
<svg width="1280" height="960" style="left:0;top:0" viewBox="0 0 1280 960"><defs><path id="j2t" d="M52.49,498.51 A25.2,25.2 0 0 1 92.50,518.90"/><path id="j2b" d="M43.09,535.23 A29.2,29.2 0 0 0 91.51,535.23"/><linearGradient id="j2g" x1="0" x2="0.3" y1="0" y2="1"><stop offset="0" stop-color="#3fa23a"/><stop offset="0.35" stop-color="#6cb545"/><stop offset="0.55" stop-color="#2b6cab"/><stop offset="0.75" stop-color="#c3a548"/><stop offset="1" stop-color="#9a8040"/></linearGradient></defs><circle cx="67.3" cy="518.9" r="32.2" fill="#fff" stroke="#222" stroke-width="1.4"/><text font-family="'DejaVu Sans', sans-serif" font-size="5.8" font-weight="700" fill="#1a1a1a"><textPath href="#j2t" textLength="56" lengthAdjust="spacingAndGlyphs">AMTLICH GEPRÜFT</textPath></text><text font-family="'DejaVu Sans', sans-serif" font-size="5.8" font-weight="700" fill="#1a1a1a"><textPath href="#j2b" textLength="54" lengthAdjust="spacingAndGlyphs">UND ANERKANNT</textPath></text><path d="M56.3,522.4 C45.3,517.9 38.3,507.9 47.3,496.4 C48.3,503.9 53.3,508.9 55.3,514.9 C56.8,517.9 56.8,520.4 56.3,522.4 Z" fill="url(#j2g)"/><path d="M44.3,506.9 C48.3,510.9 52.3,512.9 55.3,513.9" fill="none" stroke="#fff" stroke-width="0.9" opacity="0.85"/><path d="M45.3,513.9 C49.3,516.9 53.3,517.9 55.8,518.9" fill="none" stroke="#fff" stroke-width="0.9" opacity="0.85"/><text x="70.89999999999999" y="518.1" text-anchor="middle" font-family="'Liberation Sans', sans-serif" font-size="18" font-weight="700" fill="#1d3c7c" stroke="#1d3c7c" stroke-width="0.7" letter-spacing="-0.1">jKi</text><text x="78.3" y="523.5" text-anchor="middle" font-family="'Liberation Sans', sans-serif" font-size="3.4" font-weight="700" fill="#222" textLength="32" lengthAdjust="spacingAndGlyphs">Julius Kühn-Institut</text><text x="69.3" y="527.4" text-anchor="middle" font-family="'Liberation Sans', sans-serif" font-size="2.2" fill="#555" textLength="49" lengthAdjust="spacingAndGlyphs">Bundesforschungsinstitut für Kulturpflanzen</text></svg>
<div class="t" style="left:-232.70px;width:600px;text-align:center;top:553.77px;font-size:13.5px;line-height:13.5px;font-weight:400;font-family:'Liberation Sans', Arial, sans-serif;color:#1a1a1a;">G2138</div>
<svg width="1280" height="960" style="left:0;top:0" viewBox="0 0 1280 960">
<line x1="388" y1="862.57" x2="965.40" y2="862.57" stroke="rgba(85,85,85,0.4)" stroke-width="1.1"/>
<line x1="388" y1="796.23" x2="965.40" y2="796.23" stroke="rgba(85,85,85,0.4)" stroke-width="1.1"/>
<line x1="388" y1="763.06" x2="965.40" y2="763.06" stroke="rgba(85,85,85,0.4)" stroke-width="1.1"/>
<line x1="388" y1="729.89" x2="965.40" y2="729.89" stroke="rgba(85,85,85,0.4)" stroke-width="1.1"/>
<line x1="388" y1="696.72" x2="965.40" y2="696.72" stroke="rgba(85,85,85,0.4)" stroke-width="1.1"/>
<line x1="388" y1="663.55" x2="965.40" y2="663.55" stroke="rgba(85,85,85,0.4)" stroke-width="1.1"/>
<line x1="420.74" y1="663.55" x2="420.74" y2="872.5" stroke="rgba(85,85,85,0.38)" stroke-width="1"/>
<line x1="449.38" y1="663.55" x2="449.38" y2="872.5" stroke="rgba(85,85,85,0.38)" stroke-width="1"/>
<line x1="478.02" y1="663.55" x2="478.02" y2="872.5" stroke="rgba(85,85,85,0.38)" stroke-width="1"/>
<line x1="506.66" y1="663.55" x2="506.66" y2="872.5" stroke="rgba(85,85,85,0.38)" stroke-width="1"/>
<line x1="535.30" y1="663.55" x2="535.30" y2="872.5" stroke="rgba(85,85,85,0.38)" stroke-width="1"/>
<line x1="563.94" y1="663.55" x2="563.94" y2="872.5" stroke="rgba(85,85,85,0.38)" stroke-width="1"/>
<line x1="592.58" y1="663.55" x2="592.58" y2="872.5" stroke="rgba(85,85,85,0.38)" stroke-width="1"/>
<line x1="621.22" y1="663.55" x2="621.22" y2="872.5" stroke="rgba(85,85,85,0.38)" stroke-width="1"/>
<line x1="649.86" y1="663.55" x2="649.86" y2="872.5" stroke="rgba(85,85,85,0.38)" stroke-width="1"/>
<line x1="678.50" y1="663.55" x2="678.50" y2="872.5" stroke="rgba(85,85,85,0.38)" stroke-width="1"/>
<line x1="707.14" y1="663.55" x2="707.14" y2="872.5" stroke="rgba(85,85,85,0.38)" stroke-width="1"/>
<line x1="735.78" y1="663.55" x2="735.78" y2="872.5" stroke="rgba(85,85,85,0.38)" stroke-width="1"/>
<line x1="764.42" y1="663.55" x2="764.42" y2="872.5" stroke="rgba(85,85,85,0.38)" stroke-width="1"/>
<line x1="793.06" y1="663.55" x2="793.06" y2="872.5" stroke="rgba(85,85,85,0.38)" stroke-width="1"/>
<line x1="821.70" y1="663.55" x2="821.70" y2="872.5" stroke="rgba(85,85,85,0.38)" stroke-width="1"/>
<line x1="850.34" y1="663.55" x2="850.34" y2="872.5" stroke="rgba(85,85,85,0.38)" stroke-width="1"/>
<line x1="878.98" y1="663.55" x2="878.98" y2="872.5" stroke="rgba(85,85,85,0.38)" stroke-width="1"/>
<line x1="907.62" y1="663.55" x2="907.62" y2="872.5" stroke="rgba(85,85,85,0.38)" stroke-width="1"/>
<line x1="936.26" y1="663.55" x2="936.26" y2="872.5" stroke="rgba(85,85,85,0.38)" stroke-width="1"/>
<line x1="964.90" y1="663.55" x2="964.90" y2="872.5" stroke="rgba(85,85,85,0.38)" stroke-width="1"/>
<line x1="388" y1="829.40" x2="965.40" y2="829.40" stroke="rgba(120,120,120,0.8)" stroke-width="2.4"/>
<polygon points="392.10,829.40 449.38,666.20 458.54,663.55 458.54,829.40" fill="#fdf3b4"/>
<polygon points="392.10,828.40 420.74,831.39 449.38,802.53 478.02,779.31 506.66,735.53 535.30,700.37 563.94,680.80 592.58,685.77 621.22,674.83 649.86,671.84 667.62,663.88 667.62,829.40 392.10,829.40" fill="#9fd5f6"/>
<polygon points="420.74,842.67 449.38,830.06 478.02,811.82 506.66,790.92 535.30,760.41 563.94,760.41 592.58,760.41 621.22,764.72 649.86,770.69 678.50,763.72 707.14,759.74 735.78,759.74 764.42,754.77 793.06,739.84 821.70,728.23 850.34,728.23 878.98,728.23 907.62,728.23 936.26,728.23 964.90,731.55 964.90,842.67 420.74,842.67" fill="#f08282"/>
<line x1="388" y1="862.57" x2="965.40" y2="862.57" stroke="rgba(85,85,85,0.16)" stroke-width="1.1"/>
<line x1="388" y1="796.23" x2="965.40" y2="796.23" stroke="rgba(85,85,85,0.16)" stroke-width="1.1"/>
<line x1="388" y1="763.06" x2="965.40" y2="763.06" stroke="rgba(85,85,85,0.16)" stroke-width="1.1"/>
<line x1="388" y1="729.89" x2="965.40" y2="729.89" stroke="rgba(85,85,85,0.16)" stroke-width="1.1"/>
<line x1="388" y1="696.72" x2="965.40" y2="696.72" stroke="rgba(85,85,85,0.16)" stroke-width="1.1"/>
<line x1="388" y1="663.55" x2="965.40" y2="663.55" stroke="rgba(85,85,85,0.16)" stroke-width="1.1"/>
<line x1="420.74" y1="663.55" x2="420.74" y2="872.5" stroke="rgba(85,85,85,0.16)" stroke-width="1"/>
<line x1="449.38" y1="663.55" x2="449.38" y2="872.5" stroke="rgba(85,85,85,0.16)" stroke-width="1"/>
<line x1="478.02" y1="663.55" x2="478.02" y2="872.5" stroke="rgba(85,85,85,0.16)" stroke-width="1"/>
<line x1="506.66" y1="663.55" x2="506.66" y2="872.5" stroke="rgba(85,85,85,0.16)" stroke-width="1"/>
<line x1="535.30" y1="663.55" x2="535.30" y2="872.5" stroke="rgba(85,85,85,0.16)" stroke-width="1"/>
<line x1="563.94" y1="663.55" x2="563.94" y2="872.5" stroke="rgba(85,85,85,0.16)" stroke-width="1"/>
<line x1="592.58" y1="663.55" x2="592.58" y2="872.5" stroke="rgba(85,85,85,0.16)" stroke-width="1"/>
<line x1="621.22" y1="663.55" x2="621.22" y2="872.5" stroke="rgba(85,85,85,0.16)" stroke-width="1"/>
<line x1="649.86" y1="663.55" x2="649.86" y2="872.5" stroke="rgba(85,85,85,0.16)" stroke-width="1"/>
<line x1="678.50" y1="663.55" x2="678.50" y2="872.5" stroke="rgba(85,85,85,0.16)" stroke-width="1"/>
<line x1="707.14" y1="663.55" x2="707.14" y2="872.5" stroke="rgba(85,85,85,0.16)" stroke-width="1"/>
<line x1="735.78" y1="663.55" x2="735.78" y2="872.5" stroke="rgba(85,85,85,0.16)" stroke-width="1"/>
<line x1="764.42" y1="663.55" x2="764.42" y2="872.5" stroke="rgba(85,85,85,0.16)" stroke-width="1"/>
<line x1="793.06" y1="663.55" x2="793.06" y2="872.5" stroke="rgba(85,85,85,0.16)" stroke-width="1"/>
<line x1="821.70" y1="663.55" x2="821.70" y2="872.5" stroke="rgba(85,85,85,0.16)" stroke-width="1"/>
<line x1="850.34" y1="663.55" x2="850.34" y2="872.5" stroke="rgba(85,85,85,0.16)" stroke-width="1"/>
<line x1="878.98" y1="663.55" x2="878.98" y2="872.5" stroke="rgba(85,85,85,0.16)" stroke-width="1"/>
<line x1="907.62" y1="663.55" x2="907.62" y2="872.5" stroke="rgba(85,85,85,0.16)" stroke-width="1"/>
<line x1="936.26" y1="663.55" x2="936.26" y2="872.5" stroke="rgba(85,85,85,0.16)" stroke-width="1"/>
<line x1="964.90" y1="663.55" x2="964.90" y2="872.5" stroke="rgba(85,85,85,0.16)" stroke-width="1"/>
<line x1="388" y1="829.40" x2="965.40" y2="829.40" stroke="rgba(110,110,110,0.45)" stroke-width="2.4"/>
<line x1="392.7" y1="663.05" x2="392.7" y2="873" stroke="#999" stroke-width="2.8"/>
<polyline points="392.10,829.40 449.38,666.20 458.54,663.55" fill="none" stroke="#f0e626" stroke-width="3.9" stroke-linejoin="round"/>
<polyline points="392.10,828.40 420.74,831.39 449.38,802.53 478.02,779.31 506.66,735.53 535.30,700.37 563.94,680.80 592.58,685.77 621.22,674.83 649.86,671.84 667.62,663.88" fill="none" stroke="#1b86c6" stroke-width="3.9" stroke-linejoin="round"/>
<polyline points="392.10,829.40 420.74,842.67 449.38,830.06 478.02,811.82 506.66,790.92 535.30,760.41 563.94,760.41 592.58,760.41 621.22,764.72 649.86,770.69 678.50,763.72 707.14,759.74 735.78,759.74 764.42,754.77 793.06,739.84 821.70,728.23 850.34,728.23 878.98,728.23 907.62,728.23 936.26,728.23 964.90,731.55" fill="none" stroke="#c8142a" stroke-width="3.9" stroke-linejoin="round"/>
</svg>
<div class="t" style="left:323.2px;top:815.7px;font-family:'DejaVu Sans', sans-serif;font-size:133.7px;line-height:133.7px;color:rgba(48,48,48,0.74);">agrohandler.pl</div>
<div class="t" style="left:-218.20px;width:600px;text-align:right;top:856.34px;font-size:13.5px;line-height:13.5px;font-weight:400;font-family:'DejaVu Sans', 'Liberation Sans', sans-serif;color:#333;letter-spacing:-0.45px;">-1,00%</div>
<div class="t" style="left:-218.20px;width:600px;text-align:right;top:823.17px;font-size:13.5px;line-height:13.5px;font-weight:400;font-family:'DejaVu Sans', 'Liberation Sans', sans-serif;color:#333;letter-spacing:-0.45px;">0,00%</div>
<div class="t" style="left:-218.20px;width:600px;text-align:right;top:790.00px;font-size:13.5px;line-height:13.5px;font-weight:400;font-family:'DejaVu Sans', 'Liberation Sans', sans-serif;color:#333;letter-spacing:-0.45px;">1,00%</div>
<div class="t" style="left:-218.20px;width:600px;text-align:right;top:756.83px;font-size:13.5px;line-height:13.5px;font-weight:400;font-family:'DejaVu Sans', 'Liberation Sans', sans-serif;color:#333;letter-spacing:-0.45px;">2,00%</div>
<div class="t" style="left:-218.20px;width:600px;text-align:right;top:723.66px;font-size:13.5px;line-height:13.5px;font-weight:400;font-family:'DejaVu Sans', 'Liberation Sans', sans-serif;color:#333;letter-spacing:-0.45px;">3,00%</div>
<div class="t" style="left:-218.20px;width:600px;text-align:right;top:690.49px;font-size:13.5px;line-height:13.5px;font-weight:400;font-family:'DejaVu Sans', 'Liberation Sans', sans-serif;color:#333;letter-spacing:-0.45px;">4,00%</div>
<div class="t" style="left:-218.20px;width:600px;text-align:right;top:657.32px;font-size:13.5px;line-height:13.5px;font-weight:400;font-family:'DejaVu Sans', 'Liberation Sans', sans-serif;color:#333;letter-spacing:-0.45px;">5,00%</div>
<div class="t" style="left:92.40px;width:600px;text-align:center;top:876.27px;font-size:13.5px;line-height:13.5px;font-weight:400;font-family:'DejaVu Sans', 'Liberation Sans', sans-serif;color:#333;letter-spacing:-0.4px;">0</div>
<div class="t" style="left:121.04px;width:600px;text-align:center;top:876.27px;font-size:13.5px;line-height:13.5px;font-weight:400;font-family:'DejaVu Sans', 'Liberation Sans', sans-serif;color:#333;letter-spacing:-0.4px;">5</div>
<div class="t" style="left:149.68px;width:600px;text-align:center;top:876.27px;font-size:13.5px;line-height:13.5px;font-weight:400;font-family:'DejaVu Sans', 'Liberation Sans', sans-serif;color:#333;letter-spacing:-0.4px;">10</div>
<div class="t" style="left:178.32px;width:600px;text-align:center;top:876.27px;font-size:13.5px;line-height:13.5px;font-weight:400;font-family:'DejaVu Sans', 'Liberation Sans', sans-serif;color:#333;letter-spacing:-0.4px;">15</div>
<div class="t" style="left:206.96px;width:600px;text-align:center;top:876.27px;font-size:13.5px;line-height:13.5px;font-weight:400;font-family:'DejaVu Sans', 'Liberation Sans', sans-serif;color:#333;letter-spacing:-0.4px;">20</div>
<div class="t" style="left:235.60px;width:600px;text-align:center;top:876.27px;font-size:13.5px;line-height:13.5px;font-weight:400;font-family:'DejaVu Sans', 'Liberation Sans', sans-serif;color:#333;letter-spacing:-0.4px;">25</div>
<div class="t" style="left:264.24px;width:600px;text-align:center;top:876.27px;font-size:13.5px;line-height:13.5px;font-weight:400;font-family:'DejaVu Sans', 'Liberation Sans', sans-serif;color:#333;letter-spacing:-0.4px;">30</div>
<div class="t" style="left:292.88px;width:600px;text-align:center;top:876.27px;font-size:13.5px;line-height:13.5px;font-weight:400;font-family:'DejaVu Sans', 'Liberation Sans', sans-serif;color:#333;letter-spacing:-0.4px;">35</div>
<div class="t" style="left:321.52px;width:600px;text-align:center;top:876.27px;font-size:13.5px;line-height:13.5px;font-weight:400;font-family:'DejaVu Sans', 'Liberation Sans', sans-serif;color:#333;letter-spacing:-0.4px;">40</div>
<div class="t" style="left:350.16px;width:600px;text-align:center;top:876.27px;font-size:13.5px;line-height:13.5px;font-weight:400;font-family:'DejaVu Sans', 'Liberation Sans', sans-serif;color:#333;letter-spacing:-0.4px;">45</div>
<div class="t" style="left:378.80px;width:600px;text-align:center;top:876.27px;font-size:13.5px;line-height:13.5px;font-weight:400;font-family:'DejaVu Sans', 'Liberation Sans', sans-serif;color:#333;letter-spacing:-0.4px;">50</div>
<div class="t" style="left:407.44px;width:600px;text-align:center;top:876.27px;font-size:13.5px;line-height:13.5px;font-weight:400;font-family:'DejaVu Sans', 'Liberation Sans', sans-serif;color:#333;letter-spacing:-0.4px;">55</div>
<div class="t" style="left:436.08px;width:600px;text-align:center;top:876.27px;font-size:13.5px;line-height:13.5px;font-weight:400;font-family:'DejaVu Sans', 'Liberation Sans', sans-serif;color:#333;letter-spacing:-0.4px;">60</div>
<div class="t" style="left:464.72px;width:600px;text-align:center;top:876.27px;font-size:13.5px;line-height:13.5px;font-weight:400;font-family:'DejaVu Sans', 'Liberation Sans', sans-serif;color:#333;letter-spacing:-0.4px;">65</div>
<div class="t" style="left:493.36px;width:600px;text-align:center;top:876.27px;font-size:13.5px;line-height:13.5px;font-weight:400;font-family:'DejaVu Sans', 'Liberation Sans', sans-serif;color:#333;letter-spacing:-0.4px;">70</div>
<div class="t" style="left:522.00px;width:600px;text-align:center;top:876.27px;font-size:13.5px;line-height:13.5px;font-weight:400;font-family:'DejaVu Sans', 'Liberation Sans', sans-serif;color:#333;letter-spacing:-0.4px;">75</div>
<div class="t" style="left:550.64px;width:600px;text-align:center;top:876.27px;font-size:13.5px;line-height:13.5px;font-weight:400;font-family:'DejaVu Sans', 'Liberation Sans', sans-serif;color:#333;letter-spacing:-0.4px;">80</div>
<div class="t" style="left:579.28px;width:600px;text-align:center;top:876.27px;font-size:13.5px;line-height:13.5px;font-weight:400;font-family:'DejaVu Sans', 'Liberation Sans', sans-serif;color:#333;letter-spacing:-0.4px;">85</div>
<div class="t" style="left:607.92px;width:600px;text-align:center;top:876.27px;font-size:13.5px;line-height:13.5px;font-weight:400;font-family:'DejaVu Sans', 'Liberation Sans', sans-serif;color:#333;letter-spacing:-0.4px;">90</div>
<div class="t" style="left:636.56px;width:600px;text-align:center;top:876.27px;font-size:13.5px;line-height:13.5px;font-weight:400;font-family:'DejaVu Sans', 'Liberation Sans', sans-serif;color:#333;letter-spacing:-0.4px;">95</div>
<div class="t" style="left:665.20px;width:600px;text-align:center;top:876.27px;font-size:13.5px;line-height:13.5px;font-weight:400;font-family:'DejaVu Sans', 'Liberation Sans', sans-serif;color:#333;letter-spacing:-0.4px;">100</div>
<div class="t" style="left:397.80px;width:600px;text-align:center;top:899.65px;font-size:14px;line-height:14px;font-weight:400;font-family:'DejaVu Sans', 'Liberation Sans', sans-serif;color:#333;">Czas (h)</div>
<div class="t" style="left:993.00px;top:714.85px;font-size:14px;line-height:14px;font-weight:400;font-family:'DejaVu Sans', 'Liberation Sans', sans-serif;color:#2a2a2a;">Badanie</div>
<div class="t" style="left:993.00px;top:732.33px;font-size:14px;line-height:14px;font-weight:400;font-family:'DejaVu Sans', 'Liberation Sans', sans-serif;color:#2a2a2a;">przeprowadzone</div>
<div class="t" style="left:993.00px;top:749.81px;font-size:14px;line-height:14px;font-weight:400;font-family:'DejaVu Sans', 'Liberation Sans', sans-serif;color:#2a2a2a;">wg standardu</div>
<div class="t" style="left:993.00px;top:767.29px;font-size:14px;line-height:14px;font-weight:400;font-family:'DejaVu Sans', 'Liberation Sans', sans-serif;color:#2a2a2a;">ASAE S471 DEC95</div>
<div class="t" style="left:993.00px;top:784.77px;font-size:14px;line-height:14px;font-weight:400;font-family:'DejaVu Sans', 'Liberation Sans', sans-serif;color:#2a2a2a;">Procedure for</div>
<div class="t" style="left:993.00px;top:802.25px;font-size:14px;line-height:14px;font-weight:400;font-family:'DejaVu Sans', 'Liberation Sans', sans-serif;color:#2a2a2a;">Measuring Sprayer</div>
<div class="t" style="left:993.00px;top:819.73px;font-size:14px;line-height:14px;font-weight:400;font-family:'DejaVu Sans', 'Liberation Sans', sans-serif;color:#2a2a2a;">Nozzle Wear Rate,</div>
<div class="t" style="left:993.00px;top:837.21px;font-size:14px;line-height:14px;font-weight:400;font-family:'DejaVu Sans', 'Liberation Sans', sans-serif;color:#2a2a2a;">przy użyciu kaolinu.</div>
<div class="t" style="left:-280.80px;width:600px;text-align:right;top:692.98px;font-size:22px;line-height:22px;font-weight:700;font-family:'Liberation Sans', Arial, sans-serif;color:#74ad57;letter-spacing:-0.3px;">BADANIE ZUŻYCIA</div>
<div class="t" style="left:-280.60px;width:600px;text-align:right;top:720.78px;font-size:22px;line-height:22px;font-weight:700;font-family:'Liberation Sans', Arial, sans-serif;color:#74ad57;letter-spacing:-0.75px;">ROZPYLACZY</div>
<div class="t" style="left:-298.50px;width:600px;text-align:right;top:774.21px;font-size:14.4px;line-height:14.4px;font-weight:400;font-family:'DejaVu Sans', 'Liberation Sans', sans-serif;color:#2a2a2a;">Rozpylacze polimerowe</div>
<div class="r" style="left:307.6px;top:777.2px;width:12px;height:12px;background:#1f3488;"></div>
<div class="t" style="left:-298.50px;width:600px;text-align:right;top:800.61px;font-size:14.4px;line-height:14.4px;font-weight:400;font-family:'DejaVu Sans', 'Liberation Sans', sans-serif;color:#2a2a2a;">Rozpylacze ceramiczne</div>
<div class="r" style="left:307.6px;top:803.6px;width:12px;height:12px;background:#de1020;"></div>
<div class="t" style="left:-298.50px;width:600px;text-align:right;top:824.82px;font-size:14.15px;line-height:14.15px;font-weight:400;font-family:'DejaVu Sans', 'Liberation Sans', sans-serif;color:#2a2a2a;">rozpylacze ze stali kwasoodpornej</div>
<div class="r" style="left:307.6px;top:830.2px;width:12px;height:12px;background:#f7e51c;"></div>
<svg width="1280" height="960" style="left:0;top:0;opacity:0.65" viewBox="0 0 1280 960">
<path d="M136.5,896 L136,884 C135.5,878 139,875 145,874.5 L207.5,866.5 L207,834 C207,827 211,823.5 218,822.8 L262,819.6 C266.5,819.4 269.3,821.5 269.6,825 L271.5,853.5 L295,857 C300,858 303,860.5 305,864.5 L313.5,883 L290,880 L250,900 L229.5,921 L184.6,921 L170,905 Z" fill="#f8e211" stroke="#f8e211" stroke-width="12" stroke-linejoin="round"/>
<circle cx="154" cy="919.5" r="28.6" fill="#f8e211"/><circle cx="172.55" cy="925.53" r="12.5" fill="#f8e211"/><circle cx="165.46" cy="935.28" r="12.5" fill="#f8e211"/><circle cx="154.00" cy="939.00" r="12.5" fill="#f8e211"/><circle cx="142.54" cy="935.28" r="12.5" fill="#f8e211"/><circle cx="135.45" cy="925.53" r="12.5" fill="#f8e211"/><circle cx="135.45" cy="913.47" r="12.5" fill="#f8e211"/><circle cx="142.54" cy="903.72" r="12.5" fill="#f8e211"/><circle cx="154.00" cy="900.00" r="12.5" fill="#f8e211"/><circle cx="165.46" cy="903.72" r="12.5" fill="#f8e211"/><circle cx="172.55" cy="913.47" r="12.5" fill="#f8e211"/>
<circle cx="272.6" cy="907.8" r="41.2" fill="#f8e211"/><circle cx="301.67" cy="915.59" r="14.5" fill="#f8e211"/><circle cx="293.88" cy="929.08" r="14.5" fill="#f8e211"/><circle cx="280.39" cy="936.87" r="14.5" fill="#f8e211"/><circle cx="264.81" cy="936.87" r="14.5" fill="#f8e211"/><circle cx="251.32" cy="929.08" r="14.5" fill="#f8e211"/><circle cx="243.53" cy="915.59" r="14.5" fill="#f8e211"/><circle cx="243.53" cy="900.01" r="14.5" fill="#f8e211"/><circle cx="251.32" cy="886.52" r="14.5" fill="#f8e211"/><circle cx="264.81" cy="878.73" r="14.5" fill="#f8e211"/><circle cx="280.39" cy="878.73" r="14.5" fill="#f8e211"/><circle cx="293.88" cy="886.52" r="14.5" fill="#f8e211"/><circle cx="301.67" cy="900.01" r="14.5" fill="#f8e211"/>
<path d="M136.5,896 L136,884 C135.5,878 139,875 145,874.5 L207.5,866.5 L207,834 C207,827 211,823.5 218,822.8 L262,819.6 C266.5,819.4 269.3,821.5 269.6,825 L271.5,853.5 L295,857 C300,858 303,860.5 305,864.5 L313.5,883 L290,880 L250,900 L229.5,921 L184.6,921 L170,905 Z" fill="#0e9445"/>
<path d="M214.2,832 C214.2,829.5 216,828 219,827.8 L262.3,826 L263.4,851.6 C250,854 236,862 224,875 L217,867.5 L214,866.5 Z" fill="#f8e211"/>
<circle cx="154" cy="919.5" r="29.2" fill="#f8e211"/>
<circle cx="272.6" cy="907.8" r="42.1" fill="#f8e211"/>
<circle cx="154" cy="919.5" r="22.6" fill="#0e9445"/><circle cx="172.55" cy="925.53" r="6.5" fill="#0e9445"/><circle cx="165.46" cy="935.28" r="6.5" fill="#0e9445"/><circle cx="154.00" cy="939.00" r="6.5" fill="#0e9445"/><circle cx="142.54" cy="935.28" r="6.5" fill="#0e9445"/><circle cx="135.45" cy="925.53" r="6.5" fill="#0e9445"/><circle cx="135.45" cy="913.47" r="6.5" fill="#0e9445"/><circle cx="142.54" cy="903.72" r="6.5" fill="#0e9445"/><circle cx="154.00" cy="900.00" r="6.5" fill="#0e9445"/><circle cx="165.46" cy="903.72" r="6.5" fill="#0e9445"/><circle cx="172.55" cy="913.47" r="6.5" fill="#0e9445"/>
<circle cx="272.6" cy="907.8" r="35.2" fill="#0e9445"/><circle cx="301.67" cy="915.59" r="8.5" fill="#0e9445"/><circle cx="293.88" cy="929.08" r="8.5" fill="#0e9445"/><circle cx="280.39" cy="936.87" r="8.5" fill="#0e9445"/><circle cx="264.81" cy="936.87" r="8.5" fill="#0e9445"/><circle cx="251.32" cy="929.08" r="8.5" fill="#0e9445"/><circle cx="243.53" cy="915.59" r="8.5" fill="#0e9445"/><circle cx="243.53" cy="900.01" r="8.5" fill="#0e9445"/><circle cx="251.32" cy="886.52" r="8.5" fill="#0e9445"/><circle cx="264.81" cy="878.73" r="8.5" fill="#0e9445"/><circle cx="280.39" cy="878.73" r="8.5" fill="#0e9445"/><circle cx="293.88" cy="886.52" r="8.5" fill="#0e9445"/><circle cx="301.67" cy="900.01" r="8.5" fill="#0e9445"/>
<circle cx="154" cy="919.5" r="14.4" fill="#f8e211"/>
<circle cx="272.6" cy="907.8" r="22.5" fill="#f8e211"/>
</svg>
<svg width="1280" height="960" style="left:0;top:0;filter:blur(0.9px)" viewBox="0 0 1280 960">
<defs><symbol id="trc" viewBox="121 807 206 153"><path d="M136.5,896 L136,884 C135.5,878 139,875 145,874.5 L207.5,866.5 L207,834 C207,827 211,823.5 218,822.8 L262,819.6 C266.5,819.4 269.3,821.5 269.6,825 L271.5,853.5 L295,857 C300,858 303,860.5 305,864.5 L313.5,883 L290,880 L250,900 L229.5,921 L184.6,921 L170,905 Z" fill="#f3e85a" stroke="#f3e85a" stroke-width="12" stroke-linejoin="round"/>
<circle cx="154" cy="919.5" r="28.6" fill="#f3e85a"/><circle cx="172.55" cy="925.53" r="12.5" fill="#f3e85a"/><circle cx="165.46" cy="935.28" r="12.5" fill="#f3e85a"/><circle cx="154.00" cy="939.00" r="12.5" fill="#f3e85a"/><circle cx="142.54" cy="935.28" r="12.5" fill="#f3e85a"/><circle cx="135.45" cy="925.53" r="12.5" fill="#f3e85a"/><circle cx="135.45" cy="913.47" r="12.5" fill="#f3e85a"/><circle cx="142.54" cy="903.72" r="12.5" fill="#f3e85a"/><circle cx="154.00" cy="900.00" r="12.5" fill="#f3e85a"/><circle cx="165.46" cy="903.72" r="12.5" fill="#f3e85a"/><circle cx="172.55" cy="913.47" r="12.5" fill="#f3e85a"/>
<circle cx="272.6" cy="907.8" r="41.2" fill="#f3e85a"/><circle cx="301.67" cy="915.59" r="14.5" fill="#f3e85a"/><circle cx="293.88" cy="929.08" r="14.5" fill="#f3e85a"/><circle cx="280.39" cy="936.87" r="14.5" fill="#f3e85a"/><circle cx="264.81" cy="936.87" r="14.5" fill="#f3e85a"/><circle cx="251.32" cy="929.08" r="14.5" fill="#f3e85a"/><circle cx="243.53" cy="915.59" r="14.5" fill="#f3e85a"/><circle cx="243.53" cy="900.01" r="14.5" fill="#f3e85a"/><circle cx="251.32" cy="886.52" r="14.5" fill="#f3e85a"/><circle cx="264.81" cy="878.73" r="14.5" fill="#f3e85a"/><circle cx="280.39" cy="878.73" r="14.5" fill="#f3e85a"/><circle cx="293.88" cy="886.52" r="14.5" fill="#f3e85a"/><circle cx="301.67" cy="900.01" r="14.5" fill="#f3e85a"/>
<path d="M136.5,896 L136,884 C135.5,878 139,875 145,874.5 L207.5,866.5 L207,834 C207,827 211,823.5 218,822.8 L262,819.6 C266.5,819.4 269.3,821.5 269.6,825 L271.5,853.5 L295,857 C300,858 303,860.5 305,864.5 L313.5,883 L290,880 L250,900 L229.5,921 L184.6,921 L170,905 Z" fill="#5fb47e"/>
<path d="M214.2,832 C214.2,829.5 216,828 219,827.8 L262.3,826 L263.4,851.6 C250,854 236,862 224,875 L217,867.5 L214,866.5 Z" fill="#f3e85a"/>
<circle cx="154" cy="919.5" r="29.2" fill="#f3e85a"/>
<circle cx="272.6" cy="907.8" r="42.1" fill="#f3e85a"/>
<circle cx="154" cy="919.5" r="22.6" fill="#5fb47e"/><circle cx="172.55" cy="925.53" r="6.5" fill="#5fb47e"/><circle cx="165.46" cy="935.28" r="6.5" fill="#5fb47e"/><circle cx="154.00" cy="939.00" r="6.5" fill="#5fb47e"/><circle cx="142.54" cy="935.28" r="6.5" fill="#5fb47e"/><circle cx="135.45" cy="925.53" r="6.5" fill="#5fb47e"/><circle cx="135.45" cy="913.47" r="6.5" fill="#5fb47e"/><circle cx="142.54" cy="903.72" r="6.5" fill="#5fb47e"/><circle cx="154.00" cy="900.00" r="6.5" fill="#5fb47e"/><circle cx="165.46" cy="903.72" r="6.5" fill="#5fb47e"/><circle cx="172.55" cy="913.47" r="6.5" fill="#5fb47e"/>
<circle cx="272.6" cy="907.8" r="35.2" fill="#5fb47e"/><circle cx="301.67" cy="915.59" r="8.5" fill="#5fb47e"/><circle cx="293.88" cy="929.08" r="8.5" fill="#5fb47e"/><circle cx="280.39" cy="936.87" r="8.5" fill="#5fb47e"/><circle cx="264.81" cy="936.87" r="8.5" fill="#5fb47e"/><circle cx="251.32" cy="929.08" r="8.5" fill="#5fb47e"/><circle cx="243.53" cy="915.59" r="8.5" fill="#5fb47e"/><circle cx="243.53" cy="900.01" r="8.5" fill="#5fb47e"/><circle cx="251.32" cy="886.52" r="8.5" fill="#5fb47e"/><circle cx="264.81" cy="878.73" r="8.5" fill="#5fb47e"/><circle cx="280.39" cy="878.73" r="8.5" fill="#5fb47e"/><circle cx="293.88" cy="886.52" r="8.5" fill="#5fb47e"/><circle cx="301.67" cy="900.01" r="8.5" fill="#5fb47e"/>
<circle cx="154" cy="919.5" r="14.4" fill="#f3e85a"/>
<circle cx="272.6" cy="907.8" r="22.5" fill="#f3e85a"/></symbol></defs>
<use href="#trc" x="212.5" y="-26.9" width="51" height="37.8" transform="rotate(-38 238 -8)" opacity="0.36"/>
<use href="#trc" x="269.5" y="46.1" width="51" height="37.8" transform="rotate(-38 295 65)" opacity="0.36"/>
<use href="#trc" x="324.5" y="116.1" width="51" height="37.8" transform="rotate(-38 350 135)" opacity="0.36"/>
<use href="#trc" x="-33.5" y="153.1" width="51" height="37.8" transform="rotate(-38 -8 172)" opacity="0.36"/>
<use href="#trc" x="19.5" y="231.1" width="51" height="37.8" transform="rotate(-38 45 250)" opacity="0.36"/>
<use href="#trc" x="379.5" y="196.1" width="51" height="37.8" transform="rotate(-38 405 215)" opacity="0.36"/>
<use href="#trc" x="434.5" y="266.1" width="51" height="37.8" transform="rotate(-38 460 285)" opacity="0.36"/>
<use href="#trc" x="74.5" y="301.1" width="51" height="37.8" transform="rotate(-38 100 320)" opacity="0.36"/>
<use href="#trc" x="639.5" y="-1.8999999999999986" width="51" height="37.8" transform="rotate(-38 665 17)" opacity="0.36"/>
<use href="#trc" x="1066.5" y="26.1" width="51" height="37.8" transform="rotate(-38 1092 45)" opacity="0.36"/>
<use href="#trc" x="696.5" y="71.1" width="51" height="37.8" transform="rotate(-38 722 90)" opacity="0.36"/>
<use href="#trc" x="1124.5" y="101.1" width="51" height="37.8" transform="rotate(-38 1150 120)" opacity="0.36"/>
<use href="#trc" x="749.5" y="146.1" width="51" height="37.8" transform="rotate(-38 775 165)" opacity="0.36"/>
<use href="#trc" x="1179.5" y="173.1" width="51" height="37.8" transform="rotate(-38 1205 192)" opacity="0.36"/>
<use href="#trc" x="806.5" y="218.1" width="51" height="37.8" transform="rotate(-38 832 237)" opacity="0.36"/>
<use href="#trc" x="1239.5" y="261.1" width="51" height="37.8" transform="rotate(-38 1265 280)" opacity="0.36"/>
<use href="#trc" x="867.5" y="291.1" width="51" height="37.8" transform="rotate(-38 893 310)" opacity="0.36"/>
<use href="#trc" x="489.5" y="341.1" width="51" height="37.8" transform="rotate(-38 515 360)" opacity="0.36"/>
<use href="#trc" x="134.5" y="378.1" width="51" height="37.8" transform="rotate(-38 160 397)" opacity="0.36"/>
<use href="#trc" x="549.5" y="413.1" width="51" height="37.8" transform="rotate(-38 575 432)" opacity="0.36"/>
<use href="#trc" x="186.5" y="453.1" width="51" height="37.8" transform="rotate(-38 212 472)" opacity="0.36"/>
<use href="#trc" x="244.5" y="526.1" width="51" height="37.8" transform="rotate(-38 270 545)" opacity="0.36"/>
<use href="#trc" x="599.5" y="486.1" width="51" height="37.8" transform="rotate(-38 625 505)" opacity="0.36"/>
<use href="#trc" x="299.5" y="599.1" width="51" height="37.8" transform="rotate(-38 325 618)" opacity="0.36"/>
<use href="#trc" x="919.5" y="371.1" width="51" height="37.8" transform="rotate(-38 945 390)" opacity="0.36"/>
<use href="#trc" x="986.5" y="458.1" width="51" height="37.8" transform="rotate(-38 1012 477)" opacity="0.36"/>
<use href="#trc" x="1044.5" y="531.1" width="51" height="37.8" transform="rotate(-38 1070 550)" opacity="0.36"/>
<use href="#trc" x="659.5" y="561.1" width="51" height="37.8" transform="rotate(-38 685 580)" opacity="0.36"/>
<use href="#trc" x="1096.5" y="603.1" width="51" height="37.8" transform="rotate(-38 1122 622)" opacity="0.36"/>
<use href="#trc" x="-15.5" y="718.1" width="51" height="37.8" transform="rotate(-38 10 737)" opacity="0.36"/>
<use href="#trc" x="356.5" y="676.1" width="51" height="37.8" transform="rotate(-38 382 695)" opacity="0.36"/>
<use href="#trc" x="409.5" y="751.1" width="51" height="37.8" transform="rotate(-38 435 770)" opacity="0.36"/>
<use href="#trc" x="726.5" y="656.1" width="51" height="37.8" transform="rotate(-38 752 675)" opacity="0.36"/>
<use href="#trc" x="1151.5" y="681.1" width="51" height="37.8" transform="rotate(-38 1177 700)" opacity="0.36"/>
<use href="#trc" x="781.5" y="728.1" width="51" height="37.8" transform="rotate(-38 807 747)" opacity="0.36"/>
<use href="#trc" x="1209.5" y="756.1" width="51" height="37.8" transform="rotate(-38 1235 775)" opacity="0.36"/>
<defs><clipPath id="band"><rect x="0" y="0" width="1280" height="809"/></clipPath></defs>
<g clip-path="url(#band)">
<use href="#trc" x="46.0" y="797.15" width="40" height="29.7" opacity="0.4"/>
<use href="#trc" x="842.0" y="797.15" width="40" height="29.7" opacity="0.4"/>
<text x="522" y="842" transform="rotate(-30 522 842)" font-family="'DejaVu Sans', sans-serif" font-weight="400" font-size="31" fill="#fff" fill-opacity="0.3">agrohandler.pl</text>
<text x="573" y="909.2" transform="rotate(-30 573 909.2)" font-family="'DejaVu Sans', sans-serif" font-weight="400" font-size="31" fill="#fff" fill-opacity="0.3">agrohandler.pl</text>
<text x="881" y="808" transform="rotate(-30 881 808)" font-family="'DejaVu Sans', sans-serif" font-weight="400" font-size="31" fill="#fff" fill-opacity="0.3">agrohandler.pl</text>
</g>
</svg>
</div></body></html>
